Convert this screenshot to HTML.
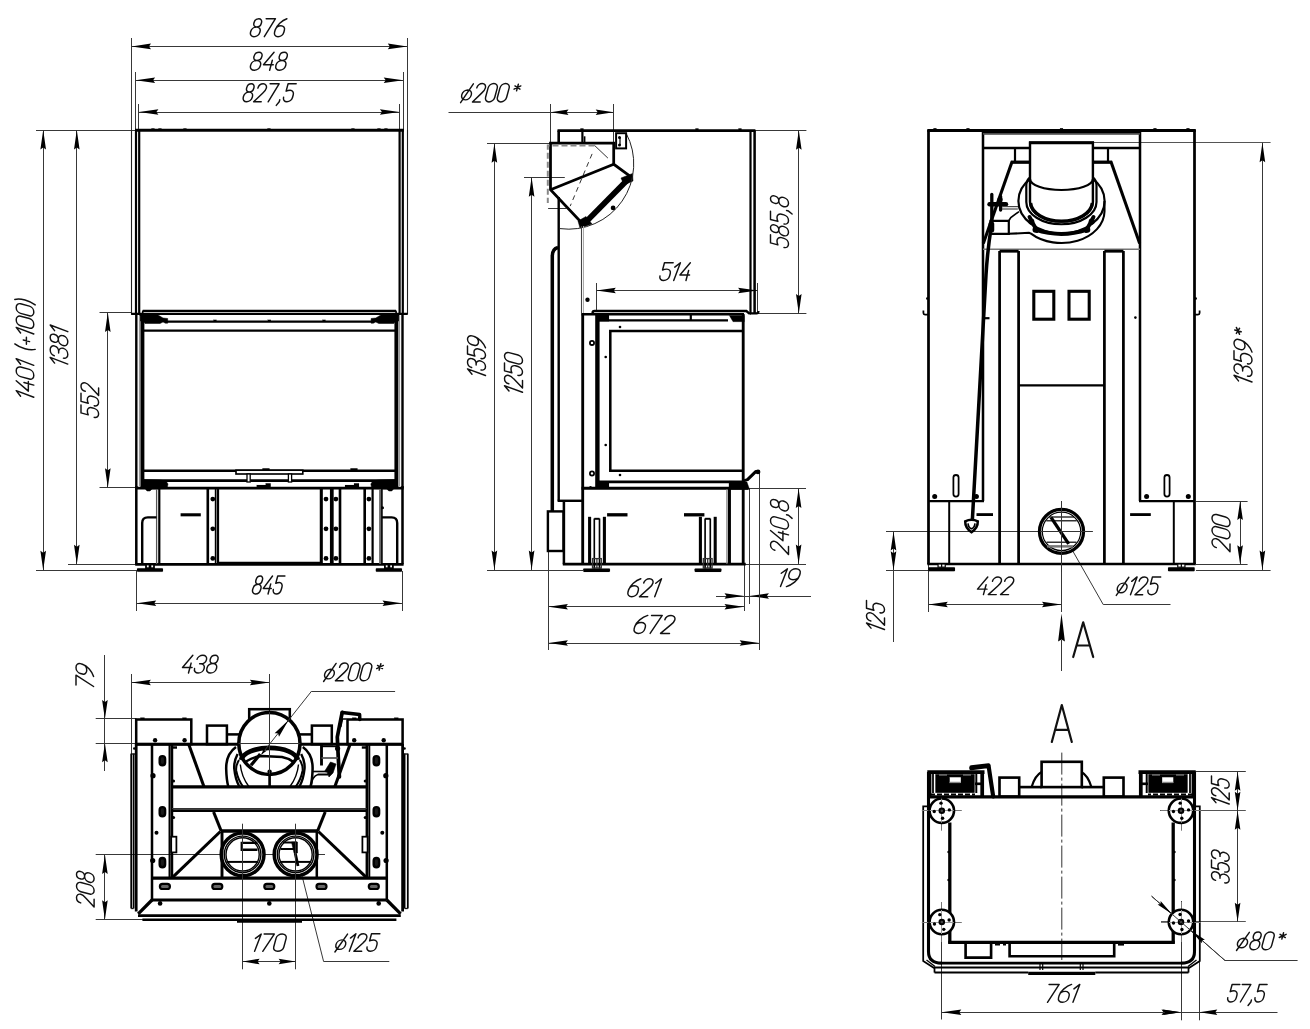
<!DOCTYPE html>
<html><head><meta charset="utf-8"><title>Drawing</title>
<style>html,body{margin:0;padding:0;background:#fff;font-family:"Liberation Sans",sans-serif;}svg{display:block}</style>
</head><body>
<svg width="1310" height="1029" viewBox="0 0 1310 1029">
<rect x="0" y="0" width="1310" height="1029" fill="#fff"/>
<g id="front">
<line x1="131.5" y1="38" x2="131.5" y2="130" stroke="#383838" stroke-width="1" stroke-linecap="butt"/>
<line x1="407.5" y1="38" x2="407.5" y2="130" stroke="#383838" stroke-width="1" stroke-linecap="butt"/>
<line x1="135.5" y1="72" x2="135.5" y2="130" stroke="#383838" stroke-width="1" stroke-linecap="butt"/>
<line x1="403.5" y1="72" x2="403.5" y2="130" stroke="#383838" stroke-width="1" stroke-linecap="butt"/>
<line x1="138.5" y1="104" x2="138.5" y2="130" stroke="#383838" stroke-width="1" stroke-linecap="butt"/>
<line x1="399.5" y1="104" x2="399.5" y2="130" stroke="#383838" stroke-width="1" stroke-linecap="butt"/>
<line x1="131.5" y1="46.5" x2="407.3" y2="46.5" stroke="#383838" stroke-width="1" stroke-linecap="butt"/>
<path d="M131.5,46.4 L151,49.2 L149,46.4 L151,43.6 Z" fill="#000"/>
<path d="M407.3,46.4 L387.8,43.6 L389.8,46.4 L387.8,49.2 Z" fill="#000"/>
<line x1="135.6" y1="80.5" x2="403.2" y2="80.5" stroke="#383838" stroke-width="1" stroke-linecap="butt"/>
<path d="M135.6,80.3 L155.1,83.1 L153.1,80.3 L155.1,77.5 Z" fill="#000"/>
<path d="M403.2,80.3 L383.7,77.5 L385.7,80.3 L383.7,83.1 Z" fill="#000"/>
<line x1="138.9" y1="112.5" x2="399.4" y2="112.5" stroke="#383838" stroke-width="1" stroke-linecap="butt"/>
<path d="M138.9,112 L158.4,114.8 L156.4,112 L158.4,109.2 Z" fill="#000"/>
<path d="M399.4,112 L379.9,109.2 L381.9,112 L379.9,114.8 Z" fill="#000"/>
<g transform="translate(254.17,18.7) skewX(-15) scale(1.86,1.8)" fill="none" stroke="#111" stroke-width="1.45" stroke-linecap="round" stroke-linejoin="round"><path vector-effect="non-scaling-stroke" transform="translate(0,0)" d="M0.5,2.1 A2,2.1 0 0 1 4.5,2.1 L4.5,2.5 A2,2.1 0 0 1 0.5,2.5 Z M0,7 A2.5,2.4 0 0 1 5,7 L5,7.5 A2.5,2.5 0 0 1 0,7.5 Z"/><path vector-effect="non-scaling-stroke" transform="translate(6.45,0)" d="M0,0 L5,0 L1.6,10"/><path vector-effect="non-scaling-stroke" transform="translate(12.9,0)" d="M4.7,0 C2.4,0.9 0,3.6 0,6.4 L0,7.5 A2.5,2.5 0 0 0 5,7.5 L5,6.3 A2.5,2.4 0 0 0 0,6.3"/></g>
<g transform="translate(254.16,52.3) skewX(-15) scale(1.96,1.8)" fill="none" stroke="#111" stroke-width="1.45" stroke-linecap="round" stroke-linejoin="round"><path vector-effect="non-scaling-stroke" transform="translate(0,0)" d="M0.5,2.1 A2,2.1 0 0 1 4.5,2.1 L4.5,2.5 A2,2.1 0 0 1 0.5,2.5 Z M0,7 A2.5,2.4 0 0 1 5,7 L5,7.5 A2.5,2.5 0 0 1 0,7.5 Z"/><path vector-effect="non-scaling-stroke" transform="translate(6.45,0)" d="M3.7,0 L0,6.9 L5,6.9 M3.9,4.4 L3.9,10"/><path vector-effect="non-scaling-stroke" transform="translate(12.9,0)" d="M0.5,2.1 A2,2.1 0 0 1 4.5,2.1 L4.5,2.5 A2,2.1 0 0 1 0.5,2.5 Z M0,7 A2.5,2.4 0 0 1 5,7 L5,7.5 A2.5,2.5 0 0 1 0,7.5 Z"/></g>
<g transform="translate(246.88,83.8) skewX(-15) scale(1.8,1.8)" fill="none" stroke="#111" stroke-width="1.45" stroke-linecap="round" stroke-linejoin="round"><path vector-effect="non-scaling-stroke" transform="translate(0,0)" d="M0.5,2.1 A2,2.1 0 0 1 4.5,2.1 L4.5,2.5 A2,2.1 0 0 1 0.5,2.5 Z M0,7 A2.5,2.4 0 0 1 5,7 L5,7.5 A2.5,2.5 0 0 1 0,7.5 Z"/><path vector-effect="non-scaling-stroke" transform="translate(6.45,0)" d="M0.3,2.4 A2.35,2.4 0 0 1 5,2.4 C5,3.6 4.5,4.3 3.8,5.1 L0,10 L4.2,10"/><path vector-effect="non-scaling-stroke" transform="translate(12.9,0)" d="M0,0 L5,0 L1.6,10"/><path vector-effect="non-scaling-stroke" transform="translate(19.35,0)" d="M1.3,8.9 L1.3,10 L0.2,12"/><path vector-effect="non-scaling-stroke" transform="translate(22.4,0)" d="M5,0 L0.5,0 L0.5,4.1 C1.2,3.7 1.9,3.6 2.6,3.6 A2.4,2.5 0 0 1 5,6.1 L5,7.5 A2.5,2.5 0 0 1 0,7.5"/></g>
<line x1="36" y1="130.5" x2="136" y2="130.5" stroke="#383838" stroke-width="1" stroke-linecap="butt"/>
<line x1="36" y1="570.5" x2="137" y2="570.5" stroke="#383838" stroke-width="1" stroke-linecap="butt"/>
<line x1="68" y1="564.5" x2="136" y2="564.5" stroke="#383838" stroke-width="1" stroke-linecap="butt"/>
<line x1="43.5" y1="130" x2="43.5" y2="570.3" stroke="#383838" stroke-width="1" stroke-linecap="butt"/>
<path d="M43.2,130 L40.4,149.5 L43.2,147.5 L46,149.5 Z" fill="#000"/>
<path d="M43.2,570.3 L46,550.8 L43.2,552.8 L40.4,550.8 Z" fill="#000"/>
<line x1="76.5" y1="130" x2="76.5" y2="564.3" stroke="#383838" stroke-width="1" stroke-linecap="butt"/>
<path d="M76.8,130 L74,149.5 L76.8,147.5 L79.6,149.5 Z" fill="#000"/>
<path d="M76.8,564.3 L79.6,544.8 L76.8,546.8 L74,544.8 Z" fill="#000"/>
<line x1="99.5" y1="312.5" x2="131" y2="312.5" stroke="#383838" stroke-width="1" stroke-linecap="butt"/>
<line x1="99.5" y1="487.5" x2="136" y2="487.5" stroke="#383838" stroke-width="1" stroke-linecap="butt"/>
<line x1="107.5" y1="312.6" x2="107.5" y2="487.7" stroke="#383838" stroke-width="1" stroke-linecap="butt"/>
<path d="M107.8,312.6 L105,332.1 L107.8,330.1 L110.6,332.1 Z" fill="#000"/>
<path d="M107.8,487.7 L110.6,468.2 L107.8,470.2 L105,468.2 Z" fill="#000"/>
<g transform="translate(33.8,397.3) rotate(-90)"><g transform="translate(2.23,-17.6) skewX(-15) scale(1.92,1.76)" fill="none" stroke="#111" stroke-width="1.45" stroke-linecap="round" stroke-linejoin="round"><path vector-effect="non-scaling-stroke" transform="translate(0,0)" d="M0,2.5 L2.3,0 L1.3,10"/><path vector-effect="non-scaling-stroke" transform="translate(3.75,0)" d="M3.7,0 L0,6.9 L5,6.9 M3.9,4.4 L3.9,10"/><path vector-effect="non-scaling-stroke" transform="translate(10.2,0)" d="M0,2.5 A2.5,2.5 0 0 1 5,2.5 L5,7.5 A2.5,2.5 0 0 1 0,7.5 Z"/><path vector-effect="non-scaling-stroke" transform="translate(16.65,0)" d="M0,2.5 L2.3,0 L1.3,10"/><path vector-effect="non-scaling-stroke" transform="translate(24.45,0)" d="M2,-0.8 C0.5,2.5 0.5,7.5 2,10.8"/><path vector-effect="non-scaling-stroke" transform="translate(27.9,0)" d="M0,5.8 L3.6,5.8 M1.8,4 L1.8,7.6"/><path vector-effect="non-scaling-stroke" transform="translate(32.95,0)" d="M0,2.5 L2.3,0 L1.3,10"/><path vector-effect="non-scaling-stroke" transform="translate(36.7,0)" d="M0,2.5 A2.5,2.5 0 0 1 5,2.5 L5,7.5 A2.5,2.5 0 0 1 0,7.5 Z"/><path vector-effect="non-scaling-stroke" transform="translate(43.15,0)" d="M0,2.5 A2.5,2.5 0 0 1 5,2.5 L5,7.5 A2.5,2.5 0 0 1 0,7.5 Z"/><path vector-effect="non-scaling-stroke" transform="translate(49.6,0)" d="M0,-0.8 C1.5,2.5 1.5,7.5 0,10.8"/></g></g>
<g transform="translate(67.8,364.1) rotate(-90)"><g transform="translate(2.18,-17.6) skewX(-15) scale(1.95,1.76)" fill="none" stroke="#111" stroke-width="1.45" stroke-linecap="round" stroke-linejoin="round"><path vector-effect="non-scaling-stroke" transform="translate(0,0)" d="M0,2.5 L2.3,0 L1.3,10"/><path vector-effect="non-scaling-stroke" transform="translate(3.75,0)" d="M0,2.3 A2.5,2.3 0 0 1 5,2.3 L5,2.6 A2.3,2.2 0 0 1 2.7,4.8 L2,4.8 M2.7,4.8 A2.4,2.5 0 0 1 5,7.3 L5,7.5 A2.5,2.5 0 0 1 0,7.5"/><path vector-effect="non-scaling-stroke" transform="translate(10.2,0)" d="M0.5,2.1 A2,2.1 0 0 1 4.5,2.1 L4.5,2.5 A2,2.1 0 0 1 0.5,2.5 Z M0,7 A2.5,2.4 0 0 1 5,7 L5,7.5 A2.5,2.5 0 0 1 0,7.5 Z"/><path vector-effect="non-scaling-stroke" transform="translate(16.65,0)" d="M0,2.5 L2.3,0 L1.3,10"/></g></g>
<g transform="translate(98.6,417.5) rotate(-90)"><g transform="translate(3.69,-17.6) skewX(-15) scale(1.79,1.76)" fill="none" stroke="#111" stroke-width="1.45" stroke-linecap="round" stroke-linejoin="round"><path vector-effect="non-scaling-stroke" transform="translate(0,0)" d="M5,0 L0.5,0 L0.5,4.1 C1.2,3.7 1.9,3.6 2.6,3.6 A2.4,2.5 0 0 1 5,6.1 L5,7.5 A2.5,2.5 0 0 1 0,7.5"/><path vector-effect="non-scaling-stroke" transform="translate(6.45,0)" d="M5,0 L0.5,0 L0.5,4.1 C1.2,3.7 1.9,3.6 2.6,3.6 A2.4,2.5 0 0 1 5,6.1 L5,7.5 A2.5,2.5 0 0 1 0,7.5"/><path vector-effect="non-scaling-stroke" transform="translate(12.9,0)" d="M0.3,2.4 A2.35,2.4 0 0 1 5,2.4 C5,3.6 4.5,4.3 3.8,5.1 L0,10 L4.2,10"/></g></g>
<line x1="136.5" y1="571" x2="136.5" y2="611" stroke="#383838" stroke-width="1" stroke-linecap="butt"/>
<line x1="402.5" y1="571" x2="402.5" y2="611" stroke="#383838" stroke-width="1" stroke-linecap="butt"/>
<line x1="136.7" y1="603.5" x2="402" y2="603.5" stroke="#383838" stroke-width="1" stroke-linecap="butt"/>
<path d="M136.7,603.3 L156.2,606.1 L154.2,603.3 L156.2,600.5 Z" fill="#000"/>
<path d="M402,603.3 L382.5,600.5 L384.5,603.3 L382.5,606.1 Z" fill="#000"/>
<g transform="translate(256.29,576) skewX(-15) scale(1.6,1.8)" fill="none" stroke="#111" stroke-width="1.45" stroke-linecap="round" stroke-linejoin="round"><path vector-effect="non-scaling-stroke" transform="translate(0,0)" d="M0.5,2.1 A2,2.1 0 0 1 4.5,2.1 L4.5,2.5 A2,2.1 0 0 1 0.5,2.5 Z M0,7 A2.5,2.4 0 0 1 5,7 L5,7.5 A2.5,2.5 0 0 1 0,7.5 Z"/><path vector-effect="non-scaling-stroke" transform="translate(6.45,0)" d="M3.7,0 L0,6.9 L5,6.9 M3.9,4.4 L3.9,10"/><path vector-effect="non-scaling-stroke" transform="translate(12.9,0)" d="M5,0 L0.5,0 L0.5,4.1 C1.2,3.7 1.9,3.6 2.6,3.6 A2.4,2.5 0 0 1 5,6.1 L5,7.5 A2.5,2.5 0 0 1 0,7.5"/></g>
<line x1="131.5" y1="130" x2="131.5" y2="314" stroke="#222" stroke-width="1.1" stroke-linecap="butt"/>
<line x1="407.5" y1="130" x2="407.5" y2="314" stroke="#222" stroke-width="1.1" stroke-linecap="butt"/>
<line x1="131" y1="314" x2="136" y2="314" stroke="#000" stroke-width="1.65" stroke-linecap="butt"/>
<line x1="407.8" y1="314" x2="402.8" y2="314" stroke="#000" stroke-width="1.65" stroke-linecap="butt"/>
<line x1="135" y1="130.3" x2="404" y2="130.3" stroke="#000" stroke-width="2.97" stroke-linecap="butt"/>
<line x1="136" y1="130" x2="136" y2="313.5" stroke="#000" stroke-width="2.2" stroke-linecap="butt"/>
<line x1="402.8" y1="130" x2="402.8" y2="313.5" stroke="#000" stroke-width="2.2" stroke-linecap="butt"/>
<line x1="139.2" y1="130" x2="139.2" y2="313.5" stroke="#000" stroke-width="2.2" stroke-linecap="butt"/>
<line x1="399.6" y1="130" x2="399.6" y2="313.5" stroke="#000" stroke-width="2.2" stroke-linecap="butt"/>
<rect x="151.5" y="128.4" width="3" height="1.6" stroke="#000" stroke-width="0.1" fill="#000" rx="0"/>
<rect x="158.5" y="128.4" width="3" height="1.6" stroke="#000" stroke-width="0.1" fill="#000" rx="0"/>
<rect x="183.5" y="128.4" width="3" height="1.6" stroke="#000" stroke-width="0.1" fill="#000" rx="0"/>
<rect x="267.5" y="128.4" width="3" height="1.6" stroke="#000" stroke-width="0.1" fill="#000" rx="0"/>
<rect x="351.5" y="128.4" width="3" height="1.6" stroke="#000" stroke-width="0.1" fill="#000" rx="0"/>
<rect x="377.5" y="128.4" width="3" height="1.6" stroke="#000" stroke-width="0.1" fill="#000" rx="0"/>
<rect x="384.5" y="128.4" width="3" height="1.6" stroke="#000" stroke-width="0.1" fill="#000" rx="0"/>
<line x1="142.7" y1="310.8" x2="396.1" y2="310.8" stroke="#000" stroke-width="2.2" stroke-linecap="butt"/>
<line x1="131.5" y1="313.8" x2="407.3" y2="313.8" stroke="#000" stroke-width="2.2" stroke-linecap="butt"/>
<path d="M142.7,313 L142.7,311.5 Q142.7,310.8 144,310.8" stroke="#000" stroke-width="1.65" fill="none" stroke-linejoin="miter" stroke-linecap="butt"/>
<path d="M396.1,313 L396.1,311.5 Q396.1,310.8 394.8,310.8" stroke="#000" stroke-width="1.65" fill="none" stroke-linejoin="miter" stroke-linecap="butt"/>
<line x1="166" y1="321.6" x2="372.8" y2="321.6" stroke="#000" stroke-width="2.42" stroke-linecap="butt"/>
<line x1="142.7" y1="330.7" x2="396.1" y2="330.7" stroke="#000" stroke-width="2.2" stroke-linecap="butt"/>
<rect x="213.5" y="319.8" width="3" height="1.2" stroke="#000" stroke-width="0.1" fill="#000" rx="0"/>
<rect x="267.9" y="319.8" width="3" height="1.2" stroke="#000" stroke-width="0.1" fill="#000" rx="0"/>
<rect x="322.5" y="319.8" width="3" height="1.2" stroke="#000" stroke-width="0.1" fill="#000" rx="0"/>
<path d="M139.7,314.5 L158,315 L163,318 L167.7,318.5 L167.7,323.2 L165.5,323.2 L163,322 L160,323.5 L145,323.5 L143,321 L139.7,321 Z" stroke="#000" stroke-width="0.5" fill="#000" stroke-linejoin="miter" stroke-linecap="butt"/>
<path d="M141.6,479.5 L160,480 L166,481 L168,484 L167,488.5 L152,489 L150,491 L147,491 L145,488.5 L141.6,488.5 Z" stroke="#000" stroke-width="0.5" fill="#000" stroke-linejoin="miter" stroke-linecap="butt"/>
<path d="M399.1,314.5 L380.8,315 L375.8,318 L371.1,318.5 L371.1,323.2 L373.3,323.2 L375.8,322 L378.8,323.5 L393.8,323.5 L395.8,321 L399.1,321 Z" stroke="#000" stroke-width="0.5" fill="#000" stroke-linejoin="miter" stroke-linecap="butt"/>
<path d="M397.2,479.5 L378.8,480 L372.8,481 L370.8,484 L371.8,488.5 L386.8,489 L388.8,491 L391.8,491 L393.8,488.5 L397.2,488.5 Z" stroke="#000" stroke-width="0.5" fill="#000" stroke-linejoin="miter" stroke-linecap="butt"/>
<line x1="136.3" y1="314" x2="136.3" y2="488" stroke="#000" stroke-width="2.42" stroke-linecap="butt"/>
<line x1="402.5" y1="314" x2="402.5" y2="488" stroke="#000" stroke-width="2.42" stroke-linecap="butt"/>
<line x1="142.4" y1="314" x2="142.4" y2="488" stroke="#000" stroke-width="3.96" stroke-linecap="butt"/>
<line x1="396.4" y1="314" x2="396.4" y2="488" stroke="#000" stroke-width="3.96" stroke-linecap="butt"/>
<line x1="139.5" y1="316" x2="139.5" y2="486" stroke="#999" stroke-width="1.2" stroke-linecap="butt"/>
<line x1="399.5" y1="316" x2="399.5" y2="486" stroke="#999" stroke-width="1.2" stroke-linecap="butt"/>
<line x1="143" y1="470.7" x2="395.8" y2="470.7" stroke="#000" stroke-width="2.53" stroke-linecap="butt"/>
<line x1="143" y1="480.6" x2="395.8" y2="480.6" stroke="#000" stroke-width="2.75" stroke-linecap="butt"/>
<rect x="236" y="470.2" width="66.8" height="3.8" stroke="#000" stroke-width="1.65" fill="#fff" rx="0"/>
<rect x="247" y="474" width="3.2" height="8" stroke="#000" stroke-width="1.3" fill="#fff" rx="0"/>
<rect x="288.4" y="474" width="3.2" height="8" stroke="#000" stroke-width="1.3" fill="#fff" rx="0"/>
<rect x="262.5" y="468.3" width="7" height="1.7" stroke="#000" stroke-width="0.1" fill="#000" rx="0"/>
<rect x="350.5" y="468.3" width="7" height="1.7" stroke="#000" stroke-width="0.1" fill="#000" rx="0"/>
<rect x="256.7" y="485" width="14" height="2.2" stroke="#000" stroke-width="0.1" fill="#000" rx="0"/>
<rect x="265.7" y="483.3" width="5" height="1.9" stroke="#000" stroke-width="0.1" fill="#000" rx="0"/>
<rect x="345" y="485" width="14" height="2.2" stroke="#000" stroke-width="0.1" fill="#000" rx="0"/>
<rect x="354" y="483.3" width="5" height="1.9" stroke="#000" stroke-width="0.1" fill="#000" rx="0"/>
<line x1="135.2" y1="488" x2="403.6" y2="488" stroke="#000" stroke-width="2.75" stroke-linecap="butt"/>
<line x1="135.2" y1="564.3" x2="403.6" y2="564.3" stroke="#000" stroke-width="2.75" stroke-linecap="butt"/>
<line x1="136.3" y1="486" x2="136.3" y2="564.3" stroke="#000" stroke-width="2.53" stroke-linecap="butt"/>
<line x1="402.5" y1="486" x2="402.5" y2="564.3" stroke="#000" stroke-width="2.53" stroke-linecap="butt"/>
<line x1="156.6" y1="489" x2="156.6" y2="564" stroke="#555" stroke-width="1.3" stroke-linecap="butt"/>
<line x1="159.3" y1="489" x2="159.3" y2="564" stroke="#000" stroke-width="2.2" stroke-linecap="butt"/>
<line x1="207.8" y1="489" x2="207.8" y2="564" stroke="#000" stroke-width="2.64" stroke-linecap="butt"/>
<line x1="215.4" y1="489" x2="215.4" y2="564" stroke="#000" stroke-width="1.2" stroke-linecap="butt"/>
<line x1="217.8" y1="489" x2="217.8" y2="564" stroke="#000" stroke-width="2.64" stroke-linecap="butt"/>
<line x1="321.3" y1="489" x2="321.3" y2="564" stroke="#000" stroke-width="3.08" stroke-linecap="butt"/>
<line x1="331.8" y1="489" x2="331.8" y2="564" stroke="#000" stroke-width="3.74" stroke-linecap="butt"/>
<line x1="340" y1="489" x2="340" y2="564" stroke="#000" stroke-width="2.64" stroke-linecap="butt"/>
<line x1="364.7" y1="489" x2="364.7" y2="564" stroke="#000" stroke-width="2.64" stroke-linecap="butt"/>
<line x1="372.6" y1="489" x2="372.6" y2="564" stroke="#000" stroke-width="2.2" stroke-linecap="butt"/>
<line x1="380.2" y1="489" x2="380.2" y2="564" stroke="#666" stroke-width="2.2" stroke-linecap="butt"/>
<line x1="381.9" y1="489" x2="381.9" y2="564" stroke="#000" stroke-width="1.65" stroke-linecap="butt"/>
<line x1="218" y1="562.6" x2="321" y2="562.6" stroke="#000" stroke-width="1.65" stroke-linecap="butt"/>
<circle cx="212.8" cy="499.1" r="2.4" fill="#000"/>
<circle cx="212.8" cy="528.8" r="2.4" fill="#000"/>
<circle cx="212.8" cy="558.4" r="2.4" fill="#000"/>
<circle cx="326" cy="499.1" r="2.4" fill="#000"/>
<circle cx="326" cy="528.8" r="2.4" fill="#000"/>
<circle cx="326" cy="558.4" r="2.4" fill="#000"/>
<circle cx="335.9" cy="499.1" r="2.4" fill="#000"/>
<circle cx="335.9" cy="528.8" r="2.4" fill="#000"/>
<circle cx="335.9" cy="558.4" r="2.4" fill="#000"/>
<circle cx="368.9" cy="499.1" r="2.4" fill="#000"/>
<circle cx="368.9" cy="528.8" r="2.4" fill="#000"/>
<circle cx="368.9" cy="558.4" r="2.4" fill="#000"/>
<circle cx="382.5" cy="507.8" r="1.5" fill="#000"/>
<line x1="180.6" y1="514.8" x2="200.8" y2="514.8" stroke="#000" stroke-width="3.08" stroke-linecap="butt"/>
<path d="M142.2,564 L142.2,523 Q142.2,517.4 147.8,517.4 L156.6,517.4" stroke="#000" stroke-width="2.42" fill="none" stroke-linejoin="miter" stroke-linecap="butt"/>
<path d="M397.2,564 L397.2,523 Q397.2,517.4 391.6,517.4 L382,517.4" stroke="#000" stroke-width="2.42" fill="none" stroke-linejoin="miter" stroke-linecap="butt"/>
<rect x="137" y="568.2" width="26" height="3.6" stroke="#000" stroke-width="0.1" fill="#000" rx="0.8"/>
<rect x="146" y="564.5" width="8" height="3.7" stroke="#000" stroke-width="1.76" fill="#fff" rx="0"/>
<line x1="150" y1="564.5" x2="150" y2="568.2" stroke="#000" stroke-width="2.64" stroke-linecap="butt"/>
<rect x="375.8" y="568.2" width="26.2" height="3.6" stroke="#000" stroke-width="0.1" fill="#000" rx="0.8"/>
<rect x="384.9" y="564.5" width="8" height="3.7" stroke="#000" stroke-width="1.76" fill="#fff" rx="0"/>
<line x1="388.9" y1="564.5" x2="388.9" y2="568.2" stroke="#000" stroke-width="2.64" stroke-linecap="butt"/>
</g>
<g id="side">
<g transform="translate(464.44,83.5) skewX(-15) scale(1.84,1.84)" fill="none" stroke="#111" stroke-width="1.45" stroke-linecap="round" stroke-linejoin="round"><path vector-effect="non-scaling-stroke" transform="translate(0,0)" d="M0.2,6.2 A2.6,2.7 0 1 1 5.4,6.2 A2.6,2.7 0 1 1 0.2,6.2 Z M4.9,0.2 L0.7,10.4"/><path vector-effect="non-scaling-stroke" transform="translate(7.05,0)" d="M0.3,2.4 A2.35,2.4 0 0 1 5,2.4 C5,3.6 4.5,4.3 3.8,5.1 L0,10 L4.2,10"/><path vector-effect="non-scaling-stroke" transform="translate(13.5,0)" d="M0,2.5 A2.5,2.5 0 0 1 5,2.5 L5,7.5 A2.5,2.5 0 0 1 0,7.5 Z"/><path vector-effect="non-scaling-stroke" transform="translate(19.95,0)" d="M0,2.5 A2.5,2.5 0 0 1 5,2.5 L5,7.5 A2.5,2.5 0 0 1 0,7.5 Z"/><path vector-effect="non-scaling-stroke" transform="translate(26.4,0)" d="M3,0.4 L3,4 M1.4,1.3 L4.6,3.1 M4.6,1.3 L1.4,3.1"/></g>
<line x1="448.5" y1="112.5" x2="613.7" y2="112.5" stroke="#383838" stroke-width="1" stroke-linecap="butt"/>
<path d="M550.5,112.2 L568.5,115 L566.5,112.2 L568.5,109.4 Z" fill="#000"/>
<path d="M613.7,112.2 L595.7,109.4 L597.7,112.2 L595.7,115 Z" fill="#000"/>
<line x1="550.5" y1="104" x2="550.5" y2="143" stroke="#383838" stroke-width="1" stroke-linecap="butt"/>
<line x1="613.5" y1="104" x2="613.5" y2="143" stroke="#383838" stroke-width="1" stroke-linecap="butt"/>
<line x1="487" y1="143.5" x2="550.5" y2="143.5" stroke="#383838" stroke-width="1" stroke-linecap="butt"/>
<line x1="487" y1="570.5" x2="583" y2="570.5" stroke="#383838" stroke-width="1" stroke-linecap="butt"/>
<line x1="494.5" y1="143.2" x2="494.5" y2="570" stroke="#383838" stroke-width="1" stroke-linecap="butt"/>
<path d="M494.4,143.2 L491.6,162.7 L494.4,160.7 L497.2,162.7 Z" fill="#000"/>
<path d="M494.4,570 L497.2,550.5 L494.4,552.5 L491.6,550.5 Z" fill="#000"/>
<line x1="524" y1="177.5" x2="564.8" y2="177.5" stroke="#383838" stroke-width="1" stroke-linecap="butt"/>
<line x1="531.5" y1="177.3" x2="531.5" y2="570" stroke="#383838" stroke-width="1" stroke-linecap="butt"/>
<path d="M531.6,177.3 L528.8,196.8 L531.6,194.8 L534.4,196.8 Z" fill="#000"/>
<path d="M531.6,570 L534.4,550.5 L531.6,552.5 L528.8,550.5 Z" fill="#000"/>
<line x1="548.1" y1="208.5" x2="566.6" y2="208.5" stroke="#383838" stroke-width="1" stroke-linecap="butt"/>
<g transform="translate(485.5,375.5) rotate(-90)"><g transform="translate(2.53,-18) skewX(-15) scale(1.77,1.8)" fill="none" stroke="#111" stroke-width="1.45" stroke-linecap="round" stroke-linejoin="round"><path vector-effect="non-scaling-stroke" transform="translate(0,0)" d="M0,2.5 L2.3,0 L1.3,10"/><path vector-effect="non-scaling-stroke" transform="translate(3.75,0)" d="M0,2.3 A2.5,2.3 0 0 1 5,2.3 L5,2.6 A2.3,2.2 0 0 1 2.7,4.8 L2,4.8 M2.7,4.8 A2.4,2.5 0 0 1 5,7.3 L5,7.5 A2.5,2.5 0 0 1 0,7.5"/><path vector-effect="non-scaling-stroke" transform="translate(10.2,0)" d="M5,0 L0.5,0 L0.5,4.1 C1.2,3.7 1.9,3.6 2.6,3.6 A2.4,2.5 0 0 1 5,6.1 L5,7.5 A2.5,2.5 0 0 1 0,7.5"/><path vector-effect="non-scaling-stroke" transform="translate(16.65,0)" d="M5,3.7 A2.5,2.4 0 0 1 0,3.7 L0,2.5 A2.5,2.5 0 0 1 5,2.5 L5,3.6 C5,6.4 2.6,9.1 0.3,10"/></g></g>
<g transform="translate(522.5,392.3) rotate(-90)"><g transform="translate(2.53,-18) skewX(-15) scale(1.77,1.8)" fill="none" stroke="#111" stroke-width="1.45" stroke-linecap="round" stroke-linejoin="round"><path vector-effect="non-scaling-stroke" transform="translate(0,0)" d="M0,2.5 L2.3,0 L1.3,10"/><path vector-effect="non-scaling-stroke" transform="translate(3.75,0)" d="M0.3,2.4 A2.35,2.4 0 0 1 5,2.4 C5,3.6 4.5,4.3 3.8,5.1 L0,10 L4.2,10"/><path vector-effect="non-scaling-stroke" transform="translate(10.2,0)" d="M5,0 L0.5,0 L0.5,4.1 C1.2,3.7 1.9,3.6 2.6,3.6 A2.4,2.5 0 0 1 5,6.1 L5,7.5 A2.5,2.5 0 0 1 0,7.5"/><path vector-effect="non-scaling-stroke" transform="translate(16.65,0)" d="M0,2.5 A2.5,2.5 0 0 1 5,2.5 L5,7.5 A2.5,2.5 0 0 1 0,7.5 Z"/></g></g>
<line x1="755" y1="130.5" x2="806.4" y2="130.5" stroke="#383838" stroke-width="1" stroke-linecap="butt"/>
<line x1="757" y1="313.5" x2="806.4" y2="313.5" stroke="#383838" stroke-width="1" stroke-linecap="butt"/>
<line x1="798.5" y1="130.2" x2="798.5" y2="313.4" stroke="#383838" stroke-width="1" stroke-linecap="butt"/>
<path d="M798.8,130.2 L796,149.7 L798.8,147.7 L801.6,149.7 Z" fill="#000"/>
<path d="M798.8,313.4 L801.6,293.9 L798.8,295.9 L796,293.9 Z" fill="#000"/>
<g transform="translate(788.5,247.6) rotate(-90)"><g transform="translate(3.77,-18) skewX(-15) scale(1.82,1.8)" fill="none" stroke="#111" stroke-width="1.45" stroke-linecap="round" stroke-linejoin="round"><path vector-effect="non-scaling-stroke" transform="translate(0,0)" d="M5,0 L0.5,0 L0.5,4.1 C1.2,3.7 1.9,3.6 2.6,3.6 A2.4,2.5 0 0 1 5,6.1 L5,7.5 A2.5,2.5 0 0 1 0,7.5"/><path vector-effect="non-scaling-stroke" transform="translate(6.45,0)" d="M0.5,2.1 A2,2.1 0 0 1 4.5,2.1 L4.5,2.5 A2,2.1 0 0 1 0.5,2.5 Z M0,7 A2.5,2.4 0 0 1 5,7 L5,7.5 A2.5,2.5 0 0 1 0,7.5 Z"/><path vector-effect="non-scaling-stroke" transform="translate(12.9,0)" d="M5,0 L0.5,0 L0.5,4.1 C1.2,3.7 1.9,3.6 2.6,3.6 A2.4,2.5 0 0 1 5,6.1 L5,7.5 A2.5,2.5 0 0 1 0,7.5"/><path vector-effect="non-scaling-stroke" transform="translate(19.35,0)" d="M1.3,8.9 L1.3,10 L0.2,12"/><path vector-effect="non-scaling-stroke" transform="translate(22.4,0)" d="M0.5,2.1 A2,2.1 0 0 1 4.5,2.1 L4.5,2.5 A2,2.1 0 0 1 0.5,2.5 Z M0,7 A2.5,2.4 0 0 1 5,7 L5,7.5 A2.5,2.5 0 0 1 0,7.5 Z"/></g></g>
<line x1="596.5" y1="283" x2="596.5" y2="311" stroke="#383838" stroke-width="1" stroke-linecap="butt"/>
<line x1="757.5" y1="283" x2="757.5" y2="313" stroke="#383838" stroke-width="1" stroke-linecap="butt"/>
<line x1="596.3" y1="290.5" x2="757.6" y2="290.5" stroke="#383838" stroke-width="1" stroke-linecap="butt"/>
<path d="M596.3,290.5 L615.8,293.3 L613.8,290.5 L615.8,287.7 Z" fill="#000"/>
<path d="M757.6,290.5 L738.1,287.7 L740.1,290.5 L738.1,293.3 Z" fill="#000"/>
<g transform="translate(663.52,262.7) skewX(-15) scale(1.93,1.78)" fill="none" stroke="#111" stroke-width="1.45" stroke-linecap="round" stroke-linejoin="round"><path vector-effect="non-scaling-stroke" transform="translate(0,0)" d="M5,0 L0.5,0 L0.5,4.1 C1.2,3.7 1.9,3.6 2.6,3.6 A2.4,2.5 0 0 1 5,6.1 L5,7.5 A2.5,2.5 0 0 1 0,7.5"/><path vector-effect="non-scaling-stroke" transform="translate(6.45,0)" d="M0,2.5 L2.3,0 L1.3,10"/><path vector-effect="non-scaling-stroke" transform="translate(10.2,0)" d="M3.7,0 L0,6.9 L5,6.9 M3.9,4.4 L3.9,10"/></g>
<line x1="745" y1="488.5" x2="806" y2="488.5" stroke="#383838" stroke-width="1" stroke-linecap="butt"/>
<line x1="745" y1="564.5" x2="806" y2="564.5" stroke="#383838" stroke-width="1" stroke-linecap="butt"/>
<line x1="798.5" y1="488.5" x2="798.5" y2="564" stroke="#383838" stroke-width="1" stroke-linecap="butt"/>
<path d="M798.6,488.5 L795.8,508 L798.6,506 L801.4,508 Z" fill="#000"/>
<path d="M798.6,564 L801.4,544.5 L798.6,546.5 L795.8,544.5 Z" fill="#000"/>
<g transform="translate(788.5,554.5) rotate(-90)"><g transform="translate(4.78,-18) skewX(-15) scale(1.9,1.8)" fill="none" stroke="#111" stroke-width="1.45" stroke-linecap="round" stroke-linejoin="round"><path vector-effect="non-scaling-stroke" transform="translate(0,0)" d="M0.3,2.4 A2.35,2.4 0 0 1 5,2.4 C5,3.6 4.5,4.3 3.8,5.1 L0,10 L4.2,10"/><path vector-effect="non-scaling-stroke" transform="translate(6.45,0)" d="M3.7,0 L0,6.9 L5,6.9 M3.9,4.4 L3.9,10"/><path vector-effect="non-scaling-stroke" transform="translate(12.9,0)" d="M0,2.5 A2.5,2.5 0 0 1 5,2.5 L5,7.5 A2.5,2.5 0 0 1 0,7.5 Z"/><path vector-effect="non-scaling-stroke" transform="translate(19.35,0)" d="M1.3,8.9 L1.3,10 L0.2,12"/><path vector-effect="non-scaling-stroke" transform="translate(22.4,0)" d="M0.5,2.1 A2,2.1 0 0 1 4.5,2.1 L4.5,2.5 A2,2.1 0 0 1 0.5,2.5 Z M0,7 A2.5,2.4 0 0 1 5,7 L5,7.5 A2.5,2.5 0 0 1 0,7.5 Z"/></g></g>
<line x1="716" y1="596.5" x2="811" y2="596.5" stroke="#383838" stroke-width="1" stroke-linecap="butt"/>
<path d="M744,596 L724.5,593.2 L726.5,596 L724.5,598.8 Z" fill="#000"/>
<path d="M749.4,596 L768.9,598.8 L766.9,596 L768.9,593.2 Z" fill="#000"/>
<g transform="translate(782.46,568.8) skewX(-15) scale(2.16,1.78)" fill="none" stroke="#111" stroke-width="1.45" stroke-linecap="round" stroke-linejoin="round"><path vector-effect="non-scaling-stroke" transform="translate(0,0)" d="M0,2.5 L2.3,0 L1.3,10"/><path vector-effect="non-scaling-stroke" transform="translate(3.75,0)" d="M5,3.7 A2.5,2.4 0 0 1 0,3.7 L0,2.5 A2.5,2.5 0 0 1 5,2.5 L5,3.6 C5,6.4 2.6,9.1 0.3,10"/></g>
<line x1="548.5" y1="552" x2="548.5" y2="650" stroke="#383838" stroke-width="1" stroke-linecap="butt"/>
<line x1="744.5" y1="563" x2="744.5" y2="611" stroke="#383838" stroke-width="1" stroke-linecap="butt"/>
<line x1="749.5" y1="488" x2="749.5" y2="604" stroke="#383838" stroke-width="1" stroke-linecap="butt"/>
<line x1="759.5" y1="472" x2="759.5" y2="650" stroke="#383838" stroke-width="1" stroke-linecap="butt"/>
<line x1="548.4" y1="606.5" x2="744" y2="606.5" stroke="#383838" stroke-width="1" stroke-linecap="butt"/>
<path d="M548.4,606.8 L567.9,609.6 L565.9,606.8 L567.9,604 Z" fill="#000"/>
<path d="M744,606.8 L724.5,604 L726.5,606.8 L724.5,609.6 Z" fill="#000"/>
<line x1="548.4" y1="643.5" x2="759.2" y2="643.5" stroke="#383838" stroke-width="1" stroke-linecap="butt"/>
<path d="M548.4,643 L567.9,645.8 L565.9,643 L567.9,640.2 Z" fill="#000"/>
<path d="M759.2,643 L739.7,640.2 L741.7,643 L739.7,645.8 Z" fill="#000"/>
<g transform="translate(631.56,578.7) skewX(-15) scale(1.97,1.8)" fill="none" stroke="#111" stroke-width="1.45" stroke-linecap="round" stroke-linejoin="round"><path vector-effect="non-scaling-stroke" transform="translate(0,0)" d="M4.7,0 C2.4,0.9 0,3.6 0,6.4 L0,7.5 A2.5,2.5 0 0 0 5,7.5 L5,6.3 A2.5,2.4 0 0 0 0,6.3"/><path vector-effect="non-scaling-stroke" transform="translate(6.45,0)" d="M0.3,2.4 A2.35,2.4 0 0 1 5,2.4 C5,3.6 4.5,4.3 3.8,5.1 L0,10 L4.2,10"/><path vector-effect="non-scaling-stroke" transform="translate(12.9,0)" d="M0,2.5 L2.3,0 L1.3,10"/></g>
<g transform="translate(637.74,615.4) skewX(-15) scale(2.14,1.8)" fill="none" stroke="#111" stroke-width="1.45" stroke-linecap="round" stroke-linejoin="round"><path vector-effect="non-scaling-stroke" transform="translate(0,0)" d="M4.7,0 C2.4,0.9 0,3.6 0,6.4 L0,7.5 A2.5,2.5 0 0 0 5,7.5 L5,6.3 A2.5,2.4 0 0 0 0,6.3"/><path vector-effect="non-scaling-stroke" transform="translate(6.45,0)" d="M0,0 L5,0 L1.6,10"/><path vector-effect="non-scaling-stroke" transform="translate(12.9,0)" d="M0.3,2.4 A2.35,2.4 0 0 1 5,2.4 C5,3.6 4.5,4.3 3.8,5.1 L0,10 L4.2,10"/></g>
<line x1="557.5" y1="130.5" x2="755.4" y2="130.5" stroke="#000" stroke-width="2.75" stroke-linecap="butt"/>
<line x1="750.5" y1="130.5" x2="750.5" y2="313.4" stroke="#000" stroke-width="2.2" stroke-linecap="butt"/>
<line x1="754.6" y1="130.5" x2="754.6" y2="313.4" stroke="#000" stroke-width="2.53" stroke-linecap="butt"/>
<path d="M750,313.4 L756.5,313.4 Q758.5,313.4 758.5,311" stroke="#000" stroke-width="2.2" fill="none" stroke-linejoin="miter" stroke-linecap="butt"/>
<rect x="580.5" y="128.4" width="3" height="1.6" stroke="#000" stroke-width="0.1" fill="#000" rx="0"/>
<rect x="695.5" y="128.4" width="3" height="1.6" stroke="#000" stroke-width="0.1" fill="#000" rx="0"/>
<rect x="738.5" y="128.4" width="3" height="1.6" stroke="#000" stroke-width="0.1" fill="#000" rx="0"/>
<line x1="558.7" y1="130.5" x2="558.7" y2="143.2" stroke="#000" stroke-width="2.64" stroke-linecap="butt"/>
<line x1="558.7" y1="197" x2="558.7" y2="500.7" stroke="#000" stroke-width="2.42" stroke-linecap="butt"/>
<line x1="582.4" y1="130.5" x2="582.4" y2="143.2" stroke="#000" stroke-width="2.2" stroke-linecap="butt"/>
<line x1="584.6" y1="136.3" x2="584.6" y2="143.2" stroke="#000" stroke-width="1.65" stroke-linecap="butt"/>
<path d="M550.5,143.2 L613.7,143.2 L613.7,164.2 L631,177 L583,224.3 L550.5,189.7 Z" stroke="#000" stroke-width="2.75" fill="none" stroke-linejoin="miter" stroke-linecap="butt"/>
<line x1="550.5" y1="189.7" x2="613.7" y2="164.2" stroke="#000" stroke-width="2.75" stroke-linecap="butt"/>
<line x1="628.3" y1="179" x2="584.4" y2="223.5" stroke="#000" stroke-width="5.72" stroke-linecap="butt"/>
<path d="M632.5,173.5 L633,181 L624,185 L621,178 Z" stroke="#000" stroke-width="0.5" fill="#000" stroke-linejoin="miter" stroke-linecap="butt"/>
<path d="M580,228 L578,221 L586,216.5 L592,224 Z" stroke="#000" stroke-width="0.5" fill="#000" stroke-linejoin="miter" stroke-linecap="butt"/>
<path d="M626.1,133.2 A65.3,65.3 0 0 1 559.9,228.6" stroke="#222" stroke-width="1" fill="none" stroke-linejoin="miter" stroke-linecap="butt"/>
<rect x="616.1" y="133.2" width="10" height="15.2" stroke="#000" stroke-width="1.98" fill="none" rx="0"/>
<circle cx="619.5" cy="137.5" r="1.5" fill="#000"/>
<circle cx="619.5" cy="145" r="1.5" fill="#000"/>
<line x1="620" y1="137" x2="620" y2="145" stroke="#000" stroke-width="1.2" stroke-linecap="butt"/>
<path d="M594.5,145.4 L547.8,145.4 L547.8,203" stroke="#888" stroke-width="1.98" fill="none" stroke-linejoin="miter" stroke-linecap="butt" stroke-dasharray="6 3"/>
<line x1="594.5" y1="145.4" x2="607.9" y2="158.1" stroke="#333" stroke-width="1" stroke-linecap="butt"/>
<line x1="592.1" y1="153.9" x2="570.2" y2="206.1" stroke="#333" stroke-width="1" stroke-linecap="butt" stroke-dasharray="5 4"/>
<circle cx="613.1" cy="207.9" r="2.4" fill="#000"/>
<path d="M558,247.5 Q552.3,249 552.3,256 L552.3,511.4" stroke="#000" stroke-width="3.52" fill="none" stroke-linejoin="miter" stroke-linecap="butt"/>
<rect x="547.9" y="511.4" width="15.6" height="39.6" stroke="#000" stroke-width="2.42" fill="none" rx="0"/>
<path d="M557.6,500.8 L583,500.8" stroke="#000" stroke-width="2.42" fill="none" stroke-linejoin="miter" stroke-linecap="butt"/>
<line x1="563.9" y1="500.7" x2="563.9" y2="564.2" stroke="#000" stroke-width="2.53" stroke-linecap="butt"/>
<line x1="562.8" y1="564" x2="745.7" y2="564" stroke="#000" stroke-width="2.75" stroke-linecap="butt"/>
<line x1="581.5" y1="226" x2="581.5" y2="313" stroke="#444" stroke-width="1.1" stroke-linecap="butt"/>
<line x1="583.5" y1="226" x2="583.5" y2="313" stroke="#aaa" stroke-width="1" stroke-linecap="butt"/>
<circle cx="587.5" cy="299.7" r="2.2" fill="#000"/>
<path d="M592.6,313 Q592.6,311 594.5,311 L746.4,311 L749.1,313.4 L751,313.4" stroke="#000" stroke-width="2.42" fill="none" stroke-linejoin="miter" stroke-linecap="butt"/>
<line x1="581.5" y1="314.2" x2="744" y2="314.2" stroke="#000" stroke-width="2.42" stroke-linecap="butt"/>
<line x1="582.7" y1="313.2" x2="582.7" y2="564.2" stroke="#000" stroke-width="2.86" stroke-linecap="butt"/>
<line x1="743.2" y1="314" x2="743.2" y2="564.2" stroke="#000" stroke-width="2.86" stroke-linecap="butt"/>
<line x1="597.4" y1="315" x2="597.4" y2="487" stroke="#000" stroke-width="4.4" stroke-linecap="butt"/>
<line x1="596" y1="320.4" x2="728" y2="320.4" stroke="#000" stroke-width="2.42" stroke-linecap="butt"/>
<path d="M743.2,331 L610.3,331 L610.3,470.8 L743.2,470.8" stroke="#000" stroke-width="2.53" fill="none" stroke-linejoin="miter" stroke-linecap="butt"/>
<line x1="596" y1="481.8" x2="743.2" y2="481.8" stroke="#000" stroke-width="2.75" stroke-linecap="butt"/>
<line x1="581.5" y1="488.2" x2="748" y2="488.2" stroke="#000" stroke-width="3.08" stroke-linecap="butt"/>
<rect x="597" y="314.5" width="12" height="6.8" stroke="#000" stroke-width="0.1" fill="#000" rx="0"/>
<rect x="597" y="481.5" width="12" height="6.3" stroke="#000" stroke-width="0.1" fill="#000" rx="0"/>
<path d="M729.3,315.5 L744.3,315.5 L744.3,321.7 L733,321.7 Z" stroke="#000" stroke-width="0.3" fill="#000" stroke-linejoin="miter" stroke-linecap="butt"/>
<path d="M729,481.2 L747,482 L749.6,489.4 L729,489.4 Z" stroke="#000" stroke-width="0.3" fill="#000" stroke-linejoin="miter" stroke-linecap="butt"/>
<line x1="690.8" y1="314" x2="690.8" y2="320.4" stroke="#000" stroke-width="2.2" stroke-linecap="butt"/>
<circle cx="592" cy="342.9" r="2.1" stroke="#000" stroke-width="1.76" fill="none"/>
<circle cx="592" cy="473.4" r="2.1" stroke="#000" stroke-width="1.76" fill="none"/>
<circle cx="590.5" cy="487.5" r="1.5" fill="#000"/>
<circle cx="620" cy="327" r="1.3" fill="#000"/>
<circle cx="605.7" cy="357" r="1.3" fill="#000"/>
<circle cx="605.7" cy="445" r="1.3" fill="#000"/>
<circle cx="620" cy="475" r="1.3" fill="#000"/>
<path d="M744.5,480.6 L747.5,479.6 L755.7,471.6 L758,471.6" stroke="#000" stroke-width="3.08" fill="none" stroke-linejoin="round" stroke-linecap="round"/>
<circle cx="758" cy="471.9" r="2.4" fill="#000"/>
<line x1="729.4" y1="489" x2="729.4" y2="564" stroke="#000" stroke-width="3.08" stroke-linecap="butt"/>
<line x1="726.9" y1="489" x2="726.9" y2="564" stroke="#777" stroke-width="1.1" stroke-linecap="butt"/>
<line x1="589.6" y1="516.8" x2="589.6" y2="564" stroke="#000" stroke-width="3.08" stroke-linecap="butt"/>
<line x1="604.4" y1="516.8" x2="604.4" y2="564" stroke="#000" stroke-width="3.08" stroke-linecap="butt"/>
<line x1="594.3" y1="518.5" x2="594.3" y2="568.5" stroke="#000" stroke-width="1.65" stroke-linecap="butt"/>
<line x1="599.5" y1="518.5" x2="599.5" y2="568.5" stroke="#000" stroke-width="1.65" stroke-linecap="butt"/>
<line x1="594.3" y1="518.8" x2="599.5" y2="518.8" stroke="#000" stroke-width="1.98" stroke-linecap="butt"/>
<rect x="592.5" y="558.6" width="8.8" height="9.4" stroke="#333" stroke-width="1.3" fill="none" rx="0"/>
<line x1="596.9" y1="558.6" x2="596.9" y2="568" stroke="#333" stroke-width="1.3" stroke-linecap="butt"/>
<line x1="700.4" y1="516.8" x2="700.4" y2="564" stroke="#000" stroke-width="3.08" stroke-linecap="butt"/>
<line x1="715.2" y1="516.8" x2="715.2" y2="564" stroke="#000" stroke-width="3.08" stroke-linecap="butt"/>
<line x1="705.1" y1="518.5" x2="705.1" y2="568.5" stroke="#000" stroke-width="1.65" stroke-linecap="butt"/>
<line x1="710.3" y1="518.5" x2="710.3" y2="568.5" stroke="#000" stroke-width="1.65" stroke-linecap="butt"/>
<line x1="705.1" y1="518.8" x2="710.3" y2="518.8" stroke="#000" stroke-width="1.98" stroke-linecap="butt"/>
<rect x="703.3" y="558.6" width="8.8" height="9.4" stroke="#333" stroke-width="1.3" fill="none" rx="0"/>
<line x1="707.7" y1="558.6" x2="707.7" y2="568" stroke="#333" stroke-width="1.3" stroke-linecap="butt"/>
<line x1="607.1" y1="514.8" x2="627.5" y2="514.8" stroke="#000" stroke-width="3.3" stroke-linecap="butt"/>
<line x1="684" y1="514.8" x2="704.4" y2="514.8" stroke="#000" stroke-width="3.3" stroke-linecap="butt"/>
<rect x="583.2" y="568.4" width="26.8" height="3.5" stroke="#000" stroke-width="0.1" fill="#000" rx="0.8"/>
<rect x="694.6" y="568.4" width="26.8" height="3.5" stroke="#000" stroke-width="0.1" fill="#000" rx="0.8"/>
</g>
<g id="rear">
<line x1="1094" y1="142.5" x2="1270.6" y2="142.5" stroke="#555" stroke-width="1" stroke-linecap="butt"/>
<line x1="1196" y1="570.5" x2="1270.6" y2="570.5" stroke="#383838" stroke-width="1" stroke-linecap="butt"/>
<line x1="1262.5" y1="142.7" x2="1262.5" y2="570" stroke="#383838" stroke-width="1" stroke-linecap="butt"/>
<path d="M1262.4,142.7 L1259.6,162.2 L1262.4,160.2 L1265.2,162.2 Z" fill="#000"/>
<path d="M1262.4,570 L1265.2,550.5 L1262.4,552.5 L1259.6,550.5 Z" fill="#000"/>
<g transform="translate(1252,382) rotate(-90)"><g transform="translate(2.34,-18) skewX(-15) scale(1.91,1.8)" fill="none" stroke="#111" stroke-width="1.45" stroke-linecap="round" stroke-linejoin="round"><path vector-effect="non-scaling-stroke" transform="translate(0,0)" d="M0,2.5 L2.3,0 L1.3,10"/><path vector-effect="non-scaling-stroke" transform="translate(3.75,0)" d="M0,2.3 A2.5,2.3 0 0 1 5,2.3 L5,2.6 A2.3,2.2 0 0 1 2.7,4.8 L2,4.8 M2.7,4.8 A2.4,2.5 0 0 1 5,7.3 L5,7.5 A2.5,2.5 0 0 1 0,7.5"/><path vector-effect="non-scaling-stroke" transform="translate(10.2,0)" d="M5,0 L0.5,0 L0.5,4.1 C1.2,3.7 1.9,3.6 2.6,3.6 A2.4,2.5 0 0 1 5,6.1 L5,7.5 A2.5,2.5 0 0 1 0,7.5"/><path vector-effect="non-scaling-stroke" transform="translate(16.65,0)" d="M5,3.7 A2.5,2.4 0 0 1 0,3.7 L0,2.5 A2.5,2.5 0 0 1 5,2.5 L5,3.6 C5,6.4 2.6,9.1 0.3,10"/><path vector-effect="non-scaling-stroke" transform="translate(23.1,0)" d="M3,0.4 L3,4 M1.4,1.3 L4.6,3.1 M4.6,1.3 L1.4,3.1"/></g></g>
<line x1="1196" y1="501.5" x2="1247.6" y2="501.5" stroke="#383838" stroke-width="1" stroke-linecap="butt"/>
<line x1="1196" y1="564.5" x2="1247.6" y2="564.5" stroke="#383838" stroke-width="1" stroke-linecap="butt"/>
<line x1="1240.5" y1="501.1" x2="1240.5" y2="564.2" stroke="#383838" stroke-width="1" stroke-linecap="butt"/>
<path d="M1240.1,501.1 L1237.3,520.1 L1240.1,518.1 L1242.9,520.1 Z" fill="#000"/>
<path d="M1240.1,564.2 L1242.9,545.2 L1240.1,547.2 L1237.3,545.2 Z" fill="#000"/>
<g transform="translate(1230,551.8) rotate(-90)"><g transform="translate(4.78,-18) skewX(-15) scale(1.88,1.8)" fill="none" stroke="#111" stroke-width="1.45" stroke-linecap="round" stroke-linejoin="round"><path vector-effect="non-scaling-stroke" transform="translate(0,0)" d="M0.3,2.4 A2.35,2.4 0 0 1 5,2.4 C5,3.6 4.5,4.3 3.8,5.1 L0,10 L4.2,10"/><path vector-effect="non-scaling-stroke" transform="translate(6.45,0)" d="M0,2.5 A2.5,2.5 0 0 1 5,2.5 L5,7.5 A2.5,2.5 0 0 1 0,7.5 Z"/><path vector-effect="non-scaling-stroke" transform="translate(12.9,0)" d="M0,2.5 A2.5,2.5 0 0 1 5,2.5 L5,7.5 A2.5,2.5 0 0 1 0,7.5 Z"/></g></g>
<line x1="886" y1="531.5" x2="1092.7" y2="531.5" stroke="#383838" stroke-width="1" stroke-linecap="butt"/>
<line x1="886" y1="570.5" x2="928" y2="570.5" stroke="#383838" stroke-width="1" stroke-linecap="butt"/>
<line x1="893.5" y1="531.4" x2="893.5" y2="642" stroke="#383838" stroke-width="1" stroke-linecap="butt"/>
<path d="M893.5,531.4 L890.7,550.4 L893.5,548.4 L896.3,550.4 Z" fill="#000"/>
<path d="M893.5,570.2 L896.3,551.2 L893.5,553.2 L890.7,551.2 Z" fill="#000"/>
<g transform="translate(884.5,629.5) rotate(-90)"><g transform="translate(2.56,-18) skewX(-15) scale(1.74,1.8)" fill="none" stroke="#111" stroke-width="1.45" stroke-linecap="round" stroke-linejoin="round"><path vector-effect="non-scaling-stroke" transform="translate(0,0)" d="M0,2.5 L2.3,0 L1.3,10"/><path vector-effect="non-scaling-stroke" transform="translate(3.75,0)" d="M0.3,2.4 A2.35,2.4 0 0 1 5,2.4 C5,3.6 4.5,4.3 3.8,5.1 L0,10 L4.2,10"/><path vector-effect="non-scaling-stroke" transform="translate(10.2,0)" d="M5,0 L0.5,0 L0.5,4.1 C1.2,3.7 1.9,3.6 2.6,3.6 A2.4,2.5 0 0 1 5,6.1 L5,7.5 A2.5,2.5 0 0 1 0,7.5"/></g></g>
<line x1="928.5" y1="565" x2="928.5" y2="612" stroke="#383838" stroke-width="1" stroke-linecap="butt"/>
<line x1="1061.5" y1="501" x2="1061.5" y2="612" stroke="#383838" stroke-width="1" stroke-linecap="butt"/>
<line x1="928.3" y1="604.5" x2="1061.5" y2="604.5" stroke="#383838" stroke-width="1" stroke-linecap="butt"/>
<path d="M928.3,604.5 L947.8,607.3 L945.8,604.5 L947.8,601.7 Z" fill="#000"/>
<path d="M1061.5,604.5 L1042,601.7 L1044,604.5 L1042,607.3 Z" fill="#000"/>
<g transform="translate(980.75,577) skewX(-15) scale(1.9,1.76)" fill="none" stroke="#111" stroke-width="1.45" stroke-linecap="round" stroke-linejoin="round"><path vector-effect="non-scaling-stroke" transform="translate(0,0)" d="M3.7,0 L0,6.9 L5,6.9 M3.9,4.4 L3.9,10"/><path vector-effect="non-scaling-stroke" transform="translate(6.45,0)" d="M0.3,2.4 A2.35,2.4 0 0 1 5,2.4 C5,3.6 4.5,4.3 3.8,5.1 L0,10 L4.2,10"/><path vector-effect="non-scaling-stroke" transform="translate(12.9,0)" d="M0.3,2.4 A2.35,2.4 0 0 1 5,2.4 C5,3.6 4.5,4.3 3.8,5.1 L0,10 L4.2,10"/></g>
<line x1="1068.5" y1="543.5" x2="1103.2" y2="604.5" stroke="#383838" stroke-width="1" stroke-linecap="butt"/>
<line x1="1103.2" y1="604.5" x2="1170.5" y2="604.5" stroke="#383838" stroke-width="1" stroke-linecap="butt"/>
<g transform="translate(1119.98,576.9) skewX(-15) scale(1.83,1.78)" fill="none" stroke="#111" stroke-width="1.45" stroke-linecap="round" stroke-linejoin="round"><path vector-effect="non-scaling-stroke" transform="translate(0,0)" d="M0.2,6.2 A2.6,2.7 0 1 1 5.4,6.2 A2.6,2.7 0 1 1 0.2,6.2 Z M4.9,0.2 L0.7,10.4"/><path vector-effect="non-scaling-stroke" transform="translate(7.05,0)" d="M0,2.5 L2.3,0 L1.3,10"/><path vector-effect="non-scaling-stroke" transform="translate(10.8,0)" d="M0.3,2.4 A2.35,2.4 0 0 1 5,2.4 C5,3.6 4.5,4.3 3.8,5.1 L0,10 L4.2,10"/><path vector-effect="non-scaling-stroke" transform="translate(17.25,0)" d="M5,0 L0.5,0 L0.5,4.1 C1.2,3.7 1.9,3.6 2.6,3.6 A2.4,2.5 0 0 1 5,6.1 L5,7.5 A2.5,2.5 0 0 1 0,7.5"/></g>
<line x1="1061.5" y1="640" x2="1061.5" y2="671" stroke="#383838" stroke-width="1" stroke-linecap="butt"/>
<path d="M1061.5,613.5 L1058.1,641.5 L1061.5,639.5 L1064.9,641.5 Z" fill="#000"/>
<path d="M1073.2,657 L1083.2,622.3 L1093.2,657 M1076.8,645.5 L1089.6,645.5" stroke="#111" stroke-width="2.2" fill="none" stroke-linejoin="round" stroke-linecap="round"/>
<line x1="927.3" y1="130.5" x2="1195.8" y2="130.5" stroke="#000" stroke-width="2.86" stroke-linecap="butt"/>
<line x1="928.5" y1="130" x2="928.5" y2="564" stroke="#000" stroke-width="2.75" stroke-linecap="butt"/>
<line x1="1194.5" y1="130" x2="1194.5" y2="564" stroke="#000" stroke-width="2.75" stroke-linecap="butt"/>
<line x1="983" y1="130" x2="983" y2="501" stroke="#000" stroke-width="2.53" stroke-linecap="butt"/>
<line x1="1140" y1="130" x2="1140" y2="501" stroke="#000" stroke-width="2.53" stroke-linecap="butt"/>
<line x1="983" y1="132" x2="1140" y2="132" stroke="#000" stroke-width="4.84" stroke-linecap="butt"/>
<line x1="983" y1="133.8" x2="1140" y2="133.8" stroke="#666" stroke-width="1.2" stroke-linecap="butt"/>
<rect x="933.5" y="128.2" width="3" height="1.8" stroke="#000" stroke-width="0.1" fill="#000" rx="0"/>
<rect x="966.5" y="128.2" width="3" height="1.8" stroke="#000" stroke-width="0.1" fill="#000" rx="0"/>
<rect x="1060" y="128.2" width="3" height="1.8" stroke="#000" stroke-width="0.1" fill="#000" rx="0"/>
<rect x="1153.5" y="128.2" width="3" height="1.8" stroke="#000" stroke-width="0.1" fill="#000" rx="0"/>
<rect x="1186.5" y="128.2" width="3" height="1.8" stroke="#000" stroke-width="0.1" fill="#000" rx="0"/>
<line x1="928" y1="501.1" x2="984" y2="501.1" stroke="#000" stroke-width="2.42" stroke-linecap="butt"/>
<line x1="1195" y1="501.1" x2="1139" y2="501.1" stroke="#000" stroke-width="2.42" stroke-linecap="butt"/>
<line x1="927.3" y1="564" x2="1195.8" y2="564" stroke="#000" stroke-width="2.42" stroke-linecap="butt"/>
<line x1="949.2" y1="501" x2="949.2" y2="564" stroke="#000" stroke-width="1.98" stroke-linecap="butt"/>
<line x1="1173.8" y1="501" x2="1173.8" y2="564" stroke="#000" stroke-width="1.98" stroke-linecap="butt"/>
<circle cx="927.3" cy="298.5" r="1.3" fill="#000"/>
<path d="M923.4,310.5 L923.4,313 Q923.4,314.6 925,314.6 L928.3,314.6" stroke="#000" stroke-width="1.76" fill="none" stroke-linejoin="miter" stroke-linecap="butt"/>
<circle cx="1195.7" cy="298.5" r="1.3" fill="#000"/>
<path d="M1199.6,310.5 L1199.6,313 Q1199.6,314.6 1198,314.6 L1194.7,314.6" stroke="#000" stroke-width="1.76" fill="none" stroke-linejoin="miter" stroke-linecap="butt"/>
<line x1="983" y1="148" x2="1030" y2="148" stroke="#000" stroke-width="2.42" stroke-linecap="butt"/>
<line x1="1093" y1="148" x2="1140" y2="148" stroke="#000" stroke-width="2.42" stroke-linecap="butt"/>
<line x1="1015" y1="148" x2="1015" y2="162" stroke="#000" stroke-width="2.2" stroke-linecap="butt"/>
<line x1="1108" y1="148" x2="1108" y2="162" stroke="#000" stroke-width="2.2" stroke-linecap="butt"/>
<line x1="1011" y1="162.2" x2="1030" y2="162.2" stroke="#000" stroke-width="3.3" stroke-linecap="butt"/>
<line x1="1093" y1="162.2" x2="1112" y2="162.2" stroke="#000" stroke-width="3.3" stroke-linecap="butt"/>
<line x1="1012.2" y1="161.2" x2="983.3" y2="243.5" stroke="#000" stroke-width="3.08" stroke-linecap="butt"/>
<line x1="1110.8" y1="161.2" x2="1139.7" y2="243.5" stroke="#000" stroke-width="3.08" stroke-linecap="butt"/>
<line x1="983" y1="249.2" x2="1140" y2="249.2" stroke="#777" stroke-width="1.4" stroke-linecap="butt"/>
<path d="M1104.5,201 L1104.5,211.5 A43,32 0 0 1 1031,233.6 L1029,232.8 L1008.8,233.8" stroke="#000" stroke-width="2.09" fill="none" stroke-linejoin="miter" stroke-linecap="butt"/>
<ellipse cx="1061.5" cy="201" rx="43.1" ry="32.3" stroke="#000" stroke-width="2.2" fill="none"/>
<path d="M1035.3,229.6 Q1061.5,238.2 1087,229.6" stroke="#000" stroke-width="3.96" fill="none" stroke-linejoin="miter" stroke-linecap="butt"/>
<path d="M1030,177.5 Q1026.3,180 1026.3,186 L1026.3,202 A35.1,22.3 0 0 0 1096.5,202 L1096.5,186 Q1096.5,180 1092.9,177.5" stroke="#000" stroke-width="2.2" fill="none" stroke-linejoin="miter" stroke-linecap="butt"/>
<path d="M1030,179 L1030,142.7 L1092.9,142.7 L1092.9,179 L1092.9,202 A31.45,19.6 0 0 1 1030,202 Z" stroke="#000" stroke-width="2.42" fill="#fff" stroke-linejoin="miter" stroke-linecap="butt"/>
<line x1="1029" y1="142.7" x2="1094" y2="142.7" stroke="#000" stroke-width="2.86" stroke-linecap="butt"/>
<path d="M1030,179 A31.45,11 0 0 0 1092.9,179" stroke="#000" stroke-width="2.2" fill="none" stroke-linejoin="miter" stroke-linecap="butt"/>
<path d="M1030.6,203 A30.9,19.2 0 0 0 1092.3,203" stroke="#000" stroke-width="3.3" fill="none" stroke-linejoin="miter" stroke-linecap="butt"/>
<circle cx="1031.3" cy="221.5" r="3" fill="#000"/>
<circle cx="1035.5" cy="229.7" r="3" fill="#000"/>
<circle cx="1091.7" cy="221.5" r="3" fill="#000"/>
<circle cx="1087.3" cy="229.7" r="3" fill="#000"/>
<path d="M1029.5,217 L1037,231" stroke="#000" stroke-width="3.85" fill="none" stroke-linejoin="round" stroke-linecap="round"/>
<path d="M1093.5,217 L1086,231" stroke="#000" stroke-width="3.85" fill="none" stroke-linejoin="round" stroke-linecap="round"/>
<line x1="991.8" y1="194.5" x2="991.8" y2="222" stroke="#000" stroke-width="3.3" stroke-linecap="round"/>
<line x1="989.5" y1="204.3" x2="1006" y2="204.3" stroke="#000" stroke-width="4.4" stroke-linecap="round"/>
<line x1="1000.6" y1="196.5" x2="1000.6" y2="210" stroke="#000" stroke-width="3.3" stroke-linecap="round"/>
<circle cx="1000" cy="199.5" r="2.6" fill="#000"/>
<line x1="1002" y1="206.6" x2="1018" y2="206.6" stroke="#444" stroke-width="1.2" stroke-linecap="butt"/>
<line x1="1002" y1="209" x2="1018" y2="209" stroke="#444" stroke-width="1.2" stroke-linecap="butt"/>
<path d="M989.4,220.8 L1008.8,220.8 L1008.8,233.9 L989.4,233.9" stroke="#000" stroke-width="2.2" fill="none" stroke-linejoin="miter" stroke-linecap="butt"/>
<path d="M1008.8,220.8 L1010.8,217.6 L1019,211.6" stroke="#000" stroke-width="1.65" fill="none" stroke-linejoin="miter" stroke-linecap="butt"/>
<path d="M991.4,225.7 Q987.5,250 986,275 L972.3,521" stroke="#000" stroke-width="3.52" fill="none" stroke-linejoin="round" stroke-linecap="round"/>
<line x1="983" y1="318.2" x2="989.5" y2="318.2" stroke="#000" stroke-width="2.2" stroke-linecap="butt"/>
<rect x="988.6" y="221.5" width="5.6" height="11" stroke="#000" stroke-width="0.1" fill="#000" rx="2.5"/>
<path d="M965.2,521.3 Q971.5,518.3 977.8,521.3 Q978,527.8 971.5,532.3 Q965,527.8 965.2,521.3 Z" stroke="#000" stroke-width="2.53" fill="#fff" stroke-linejoin="miter" stroke-linecap="butt"/>
<path d="M968,523.3 Q968.5,527.8 971.5,528.8 Q974.5,527.8 975,523.3" stroke="#000" stroke-width="1.65" fill="none" stroke-linejoin="miter" stroke-linecap="butt"/>
<line x1="999.6" y1="251.2" x2="1018.6" y2="251.2" stroke="#000" stroke-width="2.86" stroke-linecap="butt"/>
<line x1="999.6" y1="251" x2="999.6" y2="564" stroke="#000" stroke-width="2.75" stroke-linecap="butt"/>
<line x1="1018.6" y1="251" x2="1018.6" y2="564" stroke="#000" stroke-width="2.75" stroke-linecap="butt"/>
<line x1="1104.4" y1="251.2" x2="1123.4" y2="251.2" stroke="#000" stroke-width="2.86" stroke-linecap="butt"/>
<line x1="1104.4" y1="251" x2="1104.4" y2="564" stroke="#000" stroke-width="2.75" stroke-linecap="butt"/>
<line x1="1123.4" y1="251" x2="1123.4" y2="564" stroke="#000" stroke-width="2.75" stroke-linecap="butt"/>
<line x1="1018.6" y1="385.4" x2="1104.4" y2="385.4" stroke="#000" stroke-width="2.2" stroke-linecap="butt"/>
<rect x="1033.8" y="291.3" width="20" height="27.9" stroke="#000" stroke-width="3.08" fill="none" rx="0"/>
<rect x="1069" y="291.3" width="20.2" height="27.9" stroke="#000" stroke-width="3.08" fill="none" rx="0"/>
<circle cx="1135.4" cy="317.6" r="1.3" fill="#000"/>
<rect x="953.4" y="475" width="5.2" height="21.6" stroke="#000" stroke-width="1.76" fill="none" rx="2.6"/>
<rect x="1164.4" y="475" width="5.2" height="21.6" stroke="#000" stroke-width="1.76" fill="none" rx="2.6"/>
<circle cx="934.7" cy="496.4" r="2.5" fill="#000"/>
<circle cx="976.4" cy="496.4" r="2.5" fill="#000"/>
<circle cx="1188.3" cy="496.4" r="2.5" fill="#000"/>
<circle cx="1146.6" cy="496.4" r="2.5" fill="#000"/>
<line x1="976.5" y1="514.6" x2="993" y2="514.6" stroke="#000" stroke-width="2.86" stroke-linecap="butt"/>
<line x1="1130.1" y1="514.6" x2="1150.8" y2="514.6" stroke="#000" stroke-width="2.86" stroke-linecap="butt"/>
<circle cx="1061.5" cy="531.4" r="22" stroke="#000" stroke-width="3.3" fill="#fff"/>
<circle cx="1061.5" cy="531.4" r="19.2" stroke="#000" stroke-width="1.2" fill="none"/>
<line x1="1049" y1="517" x2="1074" y2="517" stroke="#000" stroke-width="1.2" stroke-linecap="butt"/>
<line x1="1046.3" y1="520.8" x2="1076.7" y2="520.8" stroke="#000" stroke-width="1.2" stroke-linecap="butt"/>
<line x1="1046.5" y1="542.2" x2="1076.5" y2="542.2" stroke="#000" stroke-width="1.2" stroke-linecap="butt"/>
<line x1="1050" y1="546.4" x2="1073" y2="546.4" stroke="#000" stroke-width="1.2" stroke-linecap="butt"/>
<line x1="1047" y1="546.4" x2="1073" y2="546.4" stroke="#777" stroke-width="2.42" stroke-linecap="butt"/>
<line x1="1051" y1="517.3" x2="1068.7" y2="543.8" stroke="#000" stroke-width="3.3" stroke-linecap="butt"/>
<line x1="1061.5" y1="501" x2="1061.5" y2="572" stroke="#333" stroke-width="1" stroke-linecap="butt"/>
<line x1="1040" y1="531.5" x2="1092.7" y2="531.5" stroke="#333" stroke-width="1" stroke-linecap="butt"/>
<rect x="928.3" y="567.2" width="26.7" height="4" stroke="#000" stroke-width="0.1" fill="#000" rx="0.8"/>
<rect x="938.05" y="564" width="7.2" height="3.2" stroke="#000" stroke-width="1.2" fill="#fff" rx="0"/>
<line x1="941.65" y1="564" x2="941.65" y2="567.2" stroke="#000" stroke-width="1.2" stroke-linecap="butt"/>
<rect x="1168" y="567.2" width="26.7" height="4" stroke="#000" stroke-width="0.1" fill="#000" rx="0.8"/>
<rect x="1177.75" y="564" width="7.2" height="3.2" stroke="#000" stroke-width="1.2" fill="#fff" rx="0"/>
<line x1="1181.35" y1="564" x2="1181.35" y2="567.2" stroke="#000" stroke-width="1.2" stroke-linecap="butt"/>
</g>
<g id="top">
<line x1="131.5" y1="674" x2="131.5" y2="754" stroke="#383838" stroke-width="1" stroke-linecap="butt"/>
<line x1="269.5" y1="674" x2="269.5" y2="712" stroke="#383838" stroke-width="1" stroke-linecap="butt"/>
<line x1="131.4" y1="682.5" x2="269.4" y2="682.5" stroke="#383838" stroke-width="1" stroke-linecap="butt"/>
<path d="M131.4,682.5 L150.9,685.3 L148.9,682.5 L150.9,679.7 Z" fill="#000"/>
<path d="M269.4,682.5 L249.9,679.7 L251.9,682.5 L249.9,685.3 Z" fill="#000"/>
<g transform="translate(185.77,655.3) skewX(-15) scale(1.91,1.77)" fill="none" stroke="#111" stroke-width="1.45" stroke-linecap="round" stroke-linejoin="round"><path vector-effect="non-scaling-stroke" transform="translate(0,0)" d="M3.7,0 L0,6.9 L5,6.9 M3.9,4.4 L3.9,10"/><path vector-effect="non-scaling-stroke" transform="translate(6.45,0)" d="M0,2.3 A2.5,2.3 0 0 1 5,2.3 L5,2.6 A2.3,2.2 0 0 1 2.7,4.8 L2,4.8 M2.7,4.8 A2.4,2.5 0 0 1 5,7.3 L5,7.5 A2.5,2.5 0 0 1 0,7.5"/><path vector-effect="non-scaling-stroke" transform="translate(12.9,0)" d="M0.5,2.1 A2,2.1 0 0 1 4.5,2.1 L4.5,2.5 A2,2.1 0 0 1 0.5,2.5 Z M0,7 A2.5,2.4 0 0 1 5,7 L5,7.5 A2.5,2.5 0 0 1 0,7.5 Z"/></g>
<line x1="95.7" y1="718.5" x2="136.5" y2="718.5" stroke="#383838" stroke-width="1" stroke-linecap="butt"/>
<line x1="95.7" y1="743.5" x2="136.5" y2="743.5" stroke="#383838" stroke-width="1" stroke-linecap="butt"/>
<line x1="104.5" y1="655" x2="104.5" y2="771" stroke="#383838" stroke-width="1" stroke-linecap="butt"/>
<path d="M104.9,718.9 L107.7,699.9 L104.9,701.9 L102.1,699.9 Z" fill="#000"/>
<path d="M104.9,743.3 L102.1,762.3 L104.9,760.3 L107.7,762.3 Z" fill="#000"/>
<g transform="translate(93.6,686.5) rotate(-90)"><g transform="translate(1.58,-17.6) skewX(-15) scale(1.96,1.76)" fill="none" stroke="#111" stroke-width="1.45" stroke-linecap="round" stroke-linejoin="round"><path vector-effect="non-scaling-stroke" transform="translate(0,0)" d="M0,0 L5,0 L1.6,10"/><path vector-effect="non-scaling-stroke" transform="translate(6.45,0)" d="M5,3.7 A2.5,2.4 0 0 1 0,3.7 L0,2.5 A2.5,2.5 0 0 1 5,2.5 L5,3.6 C5,6.4 2.6,9.1 0.3,10"/></g></g>
<line x1="95.7" y1="854.5" x2="325" y2="854.5" stroke="#383838" stroke-width="1" stroke-linecap="butt"/>
<line x1="95.7" y1="919.5" x2="143" y2="919.5" stroke="#383838" stroke-width="1" stroke-linecap="butt"/>
<line x1="104.5" y1="854.4" x2="104.5" y2="919.8" stroke="#383838" stroke-width="1" stroke-linecap="butt"/>
<path d="M104.9,854.4 L102.1,873.9 L104.9,871.9 L107.7,873.9 Z" fill="#000"/>
<path d="M104.9,919.8 L107.7,900.3 L104.9,902.3 L102.1,900.3 Z" fill="#000"/>
<g transform="translate(94.1,907) rotate(-90)"><g transform="translate(4.68,-17.6) skewX(-15) scale(1.83,1.76)" fill="none" stroke="#111" stroke-width="1.45" stroke-linecap="round" stroke-linejoin="round"><path vector-effect="non-scaling-stroke" transform="translate(0,0)" d="M0.3,2.4 A2.35,2.4 0 0 1 5,2.4 C5,3.6 4.5,4.3 3.8,5.1 L0,10 L4.2,10"/><path vector-effect="non-scaling-stroke" transform="translate(6.45,0)" d="M0,2.5 A2.5,2.5 0 0 1 5,2.5 L5,7.5 A2.5,2.5 0 0 1 0,7.5 Z"/><path vector-effect="non-scaling-stroke" transform="translate(12.9,0)" d="M0.5,2.1 A2,2.1 0 0 1 4.5,2.1 L4.5,2.5 A2,2.1 0 0 1 0.5,2.5 Z M0,7 A2.5,2.4 0 0 1 5,7 L5,7.5 A2.5,2.5 0 0 1 0,7.5 Z"/></g></g>
<g transform="translate(327.25,663.1) skewX(-15) scale(1.83,1.77)" fill="none" stroke="#111" stroke-width="1.45" stroke-linecap="round" stroke-linejoin="round"><path vector-effect="non-scaling-stroke" transform="translate(0,0)" d="M0.2,6.2 A2.6,2.7 0 1 1 5.4,6.2 A2.6,2.7 0 1 1 0.2,6.2 Z M4.9,0.2 L0.7,10.4"/><path vector-effect="non-scaling-stroke" transform="translate(7.05,0)" d="M0.3,2.4 A2.35,2.4 0 0 1 5,2.4 C5,3.6 4.5,4.3 3.8,5.1 L0,10 L4.2,10"/><path vector-effect="non-scaling-stroke" transform="translate(13.5,0)" d="M0,2.5 A2.5,2.5 0 0 1 5,2.5 L5,7.5 A2.5,2.5 0 0 1 0,7.5 Z"/><path vector-effect="non-scaling-stroke" transform="translate(19.95,0)" d="M0,2.5 A2.5,2.5 0 0 1 5,2.5 L5,7.5 A2.5,2.5 0 0 1 0,7.5 Z"/><path vector-effect="non-scaling-stroke" transform="translate(26.4,0)" d="M3,0.4 L3,4 M1.4,1.3 L4.6,3.1 M4.6,1.3 L1.4,3.1"/></g>
<line x1="311.7" y1="691.5" x2="395.1" y2="691.5" stroke="#383838" stroke-width="1" stroke-linecap="butt"/>
<line x1="242.5" y1="823.7" x2="242.5" y2="969.3" stroke="#383838" stroke-width="1" stroke-linecap="butt"/>
<line x1="295.5" y1="823.7" x2="295.5" y2="969.3" stroke="#383838" stroke-width="1" stroke-linecap="butt"/>
<line x1="242.6" y1="961.5" x2="295.6" y2="961.5" stroke="#383838" stroke-width="1" stroke-linecap="butt"/>
<path d="M242.6,961.5 L259.6,964.3 L257.6,961.5 L259.6,958.7 Z" fill="#000"/>
<path d="M295.6,961.5 L278.6,958.7 L280.6,961.5 L278.6,964.3 Z" fill="#000"/>
<g transform="translate(256.59,934.1) skewX(-15) scale(2.02,1.72)" fill="none" stroke="#111" stroke-width="1.45" stroke-linecap="round" stroke-linejoin="round"><path vector-effect="non-scaling-stroke" transform="translate(0,0)" d="M0,2.5 L2.3,0 L1.3,10"/><path vector-effect="non-scaling-stroke" transform="translate(3.75,0)" d="M0,0 L5,0 L1.6,10"/><path vector-effect="non-scaling-stroke" transform="translate(10.2,0)" d="M0,2.5 A2.5,2.5 0 0 1 5,2.5 L5,7.5 A2.5,2.5 0 0 1 0,7.5 Z"/></g>
<g transform="translate(338.51,933.7) skewX(-15) scale(1.86,1.76)" fill="none" stroke="#111" stroke-width="1.45" stroke-linecap="round" stroke-linejoin="round"><path vector-effect="non-scaling-stroke" transform="translate(0,0)" d="M0.2,6.2 A2.6,2.7 0 1 1 5.4,6.2 A2.6,2.7 0 1 1 0.2,6.2 Z M4.9,0.2 L0.7,10.4"/><path vector-effect="non-scaling-stroke" transform="translate(7.05,0)" d="M0,2.5 L2.3,0 L1.3,10"/><path vector-effect="non-scaling-stroke" transform="translate(10.8,0)" d="M0.3,2.4 A2.35,2.4 0 0 1 5,2.4 C5,3.6 4.5,4.3 3.8,5.1 L0,10 L4.2,10"/><path vector-effect="non-scaling-stroke" transform="translate(17.25,0)" d="M5,0 L0.5,0 L0.5,4.1 C1.2,3.7 1.9,3.6 2.6,3.6 A2.4,2.5 0 0 1 5,6.1 L5,7.5 A2.5,2.5 0 0 1 0,7.5"/></g>
<line x1="323.6" y1="961.5" x2="389.3" y2="961.5" stroke="#383838" stroke-width="1" stroke-linecap="butt"/>
<line x1="323.6" y1="961.5" x2="294" y2="844" stroke="#383838" stroke-width="1" stroke-linecap="butt"/>
<line x1="131.2" y1="753.6" x2="131.2" y2="908.5" stroke="#000" stroke-width="1.76" stroke-linecap="butt"/>
<line x1="133.6" y1="753.6" x2="133.6" y2="908.5" stroke="#000" stroke-width="1.76" stroke-linecap="butt"/>
<line x1="404.6" y1="753.6" x2="404.6" y2="908.5" stroke="#000" stroke-width="1.76" stroke-linecap="butt"/>
<line x1="407.8" y1="753.6" x2="407.8" y2="908.5" stroke="#000" stroke-width="1.76" stroke-linecap="butt"/>
<line x1="131.2" y1="754" x2="136" y2="754" stroke="#111" stroke-width="1.3" stroke-linecap="butt"/>
<line x1="403" y1="754" x2="407.8" y2="754" stroke="#111" stroke-width="1.3" stroke-linecap="butt"/>
<line x1="131.2" y1="908.5" x2="133.6" y2="908.5" stroke="#111" stroke-width="1.3" stroke-linecap="butt"/>
<line x1="404.6" y1="908.5" x2="407.8" y2="908.5" stroke="#111" stroke-width="1.3" stroke-linecap="butt"/>
<circle cx="134.3" cy="748.5" r="1.3" fill="#000"/>
<circle cx="404.5" cy="748.5" r="1.3" fill="#000"/>
<rect x="136.2" y="719.5" width="55.1" height="24.7" stroke="#000" stroke-width="2.53" fill="none" rx="0"/>
<circle cx="155.1" cy="740.3" r="2.2" fill="#000"/>
<circle cx="184.6" cy="740.3" r="2.2" fill="#000"/>
<rect x="140.5" y="717.6" width="4" height="1.4" stroke="#000" stroke-width="0.1" fill="#000" rx="0"/>
<rect x="182.5" y="717.6" width="4" height="1.4" stroke="#000" stroke-width="0.1" fill="#000" rx="0"/>
<rect x="207" y="725.6" width="19.9" height="18.6" stroke="#000" stroke-width="2.53" fill="none" rx="0"/>
<line x1="226.9" y1="734.4" x2="239.5" y2="734.4" stroke="#000" stroke-width="2.53" stroke-linecap="butt"/>
<line x1="136.2" y1="744" x2="136.2" y2="911.5" stroke="#000" stroke-width="2.75" stroke-linecap="butt"/>
<line x1="152" y1="744" x2="152" y2="900" stroke="#000" stroke-width="2.53" stroke-linecap="butt"/>
<line x1="169.4" y1="744" x2="169.4" y2="878.5" stroke="#000" stroke-width="1.76" stroke-linecap="butt"/>
<line x1="171.8" y1="744" x2="171.8" y2="878.5" stroke="#000" stroke-width="2.86" stroke-linecap="butt"/>
<path d="M172,747.5 L177,747.5" stroke="#000" stroke-width="2.42" fill="none" stroke-linejoin="miter" stroke-linecap="butt"/>
<rect x="159.7" y="756.1" width="5.4" height="9.2" stroke="#000" stroke-width="2.42" fill="#1a1a1a" rx="2.7"/>
<rect x="159.7" y="807.1" width="5.4" height="9.2" stroke="#000" stroke-width="2.42" fill="#1a1a1a" rx="2.7"/>
<rect x="159.7" y="858" width="5.4" height="9.2" stroke="#000" stroke-width="2.42" fill="#1a1a1a" rx="2.7"/>
<circle cx="153" cy="775.7" r="2.6" fill="#000"/>
<circle cx="152.7" cy="860.5" r="2.6" fill="#000"/>
<circle cx="156.5" cy="832.7" r="2" fill="#000"/>
<circle cx="173.5" cy="781" r="1.6" fill="#000"/>
<circle cx="173.5" cy="817.5" r="1.6" fill="#000"/>
<rect x="171.2" y="836.7" width="5.2" height="15.7" stroke="#000" stroke-width="1.76" fill="#fff" rx="0"/>
<line x1="188.7" y1="744.2" x2="203.9" y2="786.5" stroke="#000" stroke-width="3.08" stroke-linecap="butt"/>
<line x1="213.6" y1="812" x2="221.2" y2="831" stroke="#000" stroke-width="3.08" stroke-linecap="butt"/>
<line x1="220.4" y1="831.5" x2="172" y2="877.8" stroke="#000" stroke-width="3.08" stroke-linecap="butt"/>
<line x1="222" y1="830.5" x2="222" y2="878" stroke="#000" stroke-width="2.53" stroke-linecap="butt"/>
<line x1="152" y1="900" x2="138.2" y2="913.8" stroke="#000" stroke-width="3.3" stroke-linecap="butt"/>
<circle cx="160.1" cy="903.4" r="2.3" fill="#000"/>
<rect x="347.5" y="719.5" width="55.1" height="24.7" stroke="#000" stroke-width="2.53" fill="none" rx="0"/>
<circle cx="383.7" cy="740.3" r="2.2" fill="#000"/>
<circle cx="354.2" cy="740.3" r="2.2" fill="#000"/>
<rect x="394.3" y="717.6" width="4" height="1.4" stroke="#000" stroke-width="0.1" fill="#000" rx="0"/>
<rect x="352.3" y="717.6" width="4" height="1.4" stroke="#000" stroke-width="0.1" fill="#000" rx="0"/>
<rect x="311.9" y="725.6" width="19.9" height="18.6" stroke="#000" stroke-width="2.53" fill="none" rx="0"/>
<line x1="311.9" y1="734.4" x2="299.3" y2="734.4" stroke="#000" stroke-width="2.53" stroke-linecap="butt"/>
<line x1="402.6" y1="744" x2="402.6" y2="911.5" stroke="#000" stroke-width="2.75" stroke-linecap="butt"/>
<line x1="386.8" y1="744" x2="386.8" y2="900" stroke="#000" stroke-width="2.53" stroke-linecap="butt"/>
<line x1="369.4" y1="744" x2="369.4" y2="878.5" stroke="#000" stroke-width="1.76" stroke-linecap="butt"/>
<line x1="367" y1="744" x2="367" y2="878.5" stroke="#000" stroke-width="2.86" stroke-linecap="butt"/>
<path d="M366.8,747.5 L361.8,747.5" stroke="#000" stroke-width="2.42" fill="none" stroke-linejoin="miter" stroke-linecap="butt"/>
<rect x="373.7" y="756.1" width="5.4" height="9.2" stroke="#000" stroke-width="2.42" fill="#1a1a1a" rx="2.7"/>
<rect x="373.7" y="807.1" width="5.4" height="9.2" stroke="#000" stroke-width="2.42" fill="#1a1a1a" rx="2.7"/>
<rect x="373.7" y="858" width="5.4" height="9.2" stroke="#000" stroke-width="2.42" fill="#1a1a1a" rx="2.7"/>
<circle cx="385.8" cy="775.7" r="2.6" fill="#000"/>
<circle cx="386.1" cy="860.5" r="2.6" fill="#000"/>
<circle cx="382.3" cy="832.7" r="2" fill="#000"/>
<circle cx="365.3" cy="781" r="1.6" fill="#000"/>
<circle cx="365.3" cy="817.5" r="1.6" fill="#000"/>
<rect x="362.4" y="836.7" width="5.2" height="15.7" stroke="#000" stroke-width="1.76" fill="#fff" rx="0"/>
<line x1="350.1" y1="744.2" x2="334.9" y2="786.5" stroke="#000" stroke-width="3.08" stroke-linecap="butt"/>
<line x1="325.2" y1="812" x2="317.6" y2="831" stroke="#000" stroke-width="3.08" stroke-linecap="butt"/>
<line x1="318.4" y1="831.5" x2="366.8" y2="877.8" stroke="#000" stroke-width="3.08" stroke-linecap="butt"/>
<line x1="316.8" y1="830.5" x2="316.8" y2="878" stroke="#000" stroke-width="2.53" stroke-linecap="butt"/>
<line x1="386.8" y1="900" x2="400.6" y2="913.8" stroke="#000" stroke-width="3.3" stroke-linecap="butt"/>
<circle cx="378.7" cy="903.4" r="2.3" fill="#000"/>
<line x1="136" y1="744.2" x2="403" y2="744.2" stroke="#000" stroke-width="2.86" stroke-linecap="butt"/>
<line x1="171" y1="786.9" x2="367.8" y2="786.9" stroke="#000" stroke-width="3.08" stroke-linecap="butt"/>
<line x1="171" y1="810.6" x2="367.8" y2="810.6" stroke="#000" stroke-width="2.86" stroke-linecap="butt"/>
<line x1="172" y1="808.5" x2="366.8" y2="808.5" stroke="#333" stroke-width="1.1" stroke-linecap="butt"/>
<line x1="151" y1="878.2" x2="387.8" y2="878.2" stroke="#000" stroke-width="3.3" stroke-linecap="butt"/>
<line x1="152" y1="900" x2="386.8" y2="900" stroke="#000" stroke-width="2.86" stroke-linecap="butt"/>
<line x1="138" y1="915.6" x2="400.8" y2="915.6" stroke="#000" stroke-width="2.86" stroke-linecap="butt"/>
<line x1="142.4" y1="919.8" x2="396.4" y2="919.8" stroke="#000" stroke-width="2.64" stroke-linecap="butt"/>
<line x1="237" y1="921.6" x2="302" y2="921.6" stroke="#000" stroke-width="2.42" stroke-linecap="butt"/>
<rect x="159.9" y="883.8" width="10" height="5.2" stroke="#000" stroke-width="2.2" fill="#666" rx="2.6"/>
<rect x="212.3" y="883.8" width="10" height="5.2" stroke="#000" stroke-width="2.2" fill="#666" rx="2.6"/>
<rect x="264.3" y="883.8" width="10" height="5.2" stroke="#000" stroke-width="2.2" fill="#666" rx="2.6"/>
<rect x="316.5" y="883.8" width="10" height="5.2" stroke="#000" stroke-width="2.2" fill="#666" rx="2.6"/>
<rect x="368.8" y="883.8" width="10" height="5.2" stroke="#000" stroke-width="2.2" fill="#666" rx="2.6"/>
<circle cx="269.3" cy="903.4" r="2.3" fill="#000"/>
<line x1="221" y1="831" x2="317.8" y2="831" stroke="#000" stroke-width="3.3" stroke-linecap="butt"/>
<rect x="249.2" y="709.2" width="40.6" height="34.8" stroke="#000" stroke-width="2.53" fill="none" rx="0"/>
<path d="M236,747 C229,752 226,760 226.2,769 C226.4,777 227,782 228.3,786.5" stroke="#000" stroke-width="2.53" fill="none" stroke-linejoin="miter" stroke-linecap="butt"/>
<path d="M302.8,747 C309.8,752 312.8,760 312.6,769 C312.4,777 311.8,782 310.5,786.5" stroke="#000" stroke-width="2.53" fill="none" stroke-linejoin="miter" stroke-linecap="butt"/>
<path d="M237.6,754 C235,759 233.8,764 234.3,769 C235,776 236.8,782 239.3,786.5" stroke="#000" stroke-width="2.42" fill="none" stroke-linejoin="miter" stroke-linecap="butt"/>
<path d="M301.2,754 C303.8,759 305,764 304.5,769 C303.8,776 302,782 299.5,786.5" stroke="#000" stroke-width="2.42" fill="none" stroke-linejoin="miter" stroke-linecap="butt"/>
<path d="M239,760 C236.6,764 235.8,768 236.3,771 C237.5,777 240,782.5 243,786.5" stroke="#000" stroke-width="1.98" fill="none" stroke-linejoin="miter" stroke-linecap="butt"/>
<path d="M299.8,760 C302.2,764 303,768 302.5,771 C301.3,777 298.8,782.5 295.8,786.5" stroke="#000" stroke-width="1.98" fill="none" stroke-linejoin="miter" stroke-linecap="butt"/>
<path d="M240.3,764.5 C241,772 244,780 248.8,786.5 C248.8,786.5 248.8,786.5 248.8,786.5" stroke="#000" stroke-width="1.4" fill="none" stroke-linejoin="miter" stroke-linecap="butt"/>
<path d="M298.5,764.5 C297.8,772 294.8,780 290,786.5 C290,786.5 290,786.5 290,786.5" stroke="#000" stroke-width="1.4" fill="none" stroke-linejoin="miter" stroke-linecap="butt"/>
<ellipse cx="269.4" cy="743.4" rx="30.6" ry="31" stroke="#000" stroke-width="3.52" fill="#fff"/>
<path d="M241.2,760 A28.4,13.2 0 0 1 297.8,760" stroke="#000" stroke-width="4.84" fill="none" stroke-linejoin="miter" stroke-linecap="butt"/>
<path d="M246,761.5 C252,757.5 258,756.2 262,756 L282,757 C287,758 291,760 293.5,762" stroke="#000" stroke-width="2.42" fill="none" stroke-linejoin="miter" stroke-linecap="butt"/>
<line x1="260.3" y1="754" x2="251" y2="765.3" stroke="#000" stroke-width="3.3" stroke-linecap="butt"/>
<circle cx="269.6" cy="771.8" r="2.2" fill="#000"/>
<line x1="311.7" y1="691" x2="261.5" y2="754.3" stroke="#383838" stroke-width="1" stroke-linecap="butt"/>
<path d="M288.6,720 L274.61,733.16 L278.04,733.33 L279,736.63 Z" fill="#000"/>
<path d="M261.2,754.7 L267.04,750.39 L264.3,750.78 L264.06,748.03 Z" fill="#000"/>
<line x1="238.5" y1="743.5" x2="300.3" y2="743.5" stroke="#333" stroke-width="1" stroke-linecap="butt"/>
<line x1="269.5" y1="712" x2="269.5" y2="774" stroke="#333" stroke-width="1" stroke-linecap="butt"/>
<line x1="269.6" y1="774.5" x2="269.6" y2="786.5" stroke="#000" stroke-width="2.64" stroke-linecap="butt"/>
<path d="M342.2,712.4 L359.6,714.6 L359.8,719.5" stroke="#000" stroke-width="3.52" fill="none" stroke-linejoin="round" stroke-linecap="round"/>
<path d="M342.2,712.4 L337.3,737 L338.3,758 L339.4,777" stroke="#000" stroke-width="3.74" fill="none" stroke-linejoin="round" stroke-linecap="round"/>
<path d="M346.5,719 L342.5,719 L340.8,727" stroke="#000" stroke-width="1.4" fill="none" stroke-linejoin="miter" stroke-linecap="butt"/>
<line x1="321.5" y1="744" x2="321.5" y2="765.5" stroke="#000" stroke-width="2.86" stroke-linecap="butt"/>
<line x1="321.5" y1="758" x2="338" y2="758" stroke="#555" stroke-width="1.76" stroke-linecap="butt"/>
<line x1="322" y1="746.5" x2="337" y2="746.5" stroke="#000" stroke-width="1.4" stroke-linecap="butt"/>
<path d="M324.5,771.5 L330.5,762 L336,764 L333,773 L329,777 L327,772 Z" stroke="#000" stroke-width="0.6" fill="#000" stroke-linejoin="round" stroke-linecap="butt"/>
<circle cx="337.6" cy="748.5" r="2.6" fill="#000"/>
<circle cx="339" cy="776" r="1.8" fill="#000"/>
<line x1="313" y1="771.5" x2="327" y2="771.5" stroke="#000" stroke-width="1.65" stroke-linecap="butt"/>
<path d="M311,786.5 Q312,776 318,774.5 L328,774.5" stroke="#000" stroke-width="1.76" fill="none" stroke-linejoin="miter" stroke-linecap="butt"/>
<circle cx="242.6" cy="854.4" r="21.4" stroke="#000" stroke-width="3.52" fill="#fff"/>
<circle cx="242.6" cy="854.4" r="18.3" stroke="#000" stroke-width="1.4" fill="none"/>
<circle cx="242.6" cy="854.4" r="16.6" stroke="#000" stroke-width="1.4" fill="none"/>
<circle cx="295.6" cy="854.4" r="21.4" stroke="#000" stroke-width="3.52" fill="#fff"/>
<circle cx="295.6" cy="854.4" r="18.3" stroke="#000" stroke-width="1.4" fill="none"/>
<circle cx="295.6" cy="854.4" r="16.6" stroke="#000" stroke-width="1.4" fill="none"/>
<line x1="222" y1="878" x2="222" y2="831" stroke="#000" stroke-width="2.53" stroke-linecap="butt"/>
<path d="M257.4,842.9 L241.8,842.9 L241.8,849.7 L257.4,849.7" stroke="#000" stroke-width="2.42" fill="none" stroke-linejoin="miter" stroke-linecap="butt"/>
<line x1="226.5" y1="861.9" x2="258" y2="861.9" stroke="#000" stroke-width="1.98" stroke-linecap="butt"/>
<line x1="283" y1="842.5" x2="297" y2="842.5" stroke="#000" stroke-width="1.98" stroke-linecap="butt"/>
<line x1="280.5" y1="849" x2="297" y2="849" stroke="#000" stroke-width="1.98" stroke-linecap="butt"/>
<line x1="280" y1="861.9" x2="311" y2="861.9" stroke="#000" stroke-width="1.98" stroke-linecap="butt"/>
<path d="M291.5,842 L297.5,842 L297.5,853 L294,853 Z" stroke="#000" stroke-width="0.5" fill="#000" stroke-linejoin="miter" stroke-linecap="butt"/>
<line x1="295.2" y1="853" x2="298" y2="866" stroke="#000" stroke-width="2.86" stroke-linecap="butt"/>
<line x1="242.5" y1="824.5" x2="242.5" y2="890" stroke="#333" stroke-width="1" stroke-linecap="butt"/>
<line x1="295.5" y1="824.5" x2="295.5" y2="890" stroke="#333" stroke-width="1" stroke-linecap="butt"/>
</g>
<g id="bottom">
<path d="M1051.8,742 L1061.8,705 L1071.8,742 M1055.3,729.8 L1068.3,729.8" stroke="#111" stroke-width="2.2" fill="none" stroke-linejoin="round" stroke-linecap="round"/>
<line x1="1061.8" y1="752.6" x2="1061.8" y2="960" stroke="#333" stroke-width="1" stroke-linecap="butt" stroke-dasharray="22 3 3 3"/>
<line x1="941.5" y1="935" x2="941.5" y2="1019.5" stroke="#383838" stroke-width="1" stroke-linecap="butt"/>
<line x1="1181.5" y1="901" x2="1181.5" y2="1020.3" stroke="#383838" stroke-width="1" stroke-linecap="butt"/>
<line x1="1199.5" y1="960" x2="1199.5" y2="1020.3" stroke="#383838" stroke-width="1" stroke-linecap="butt"/>
<line x1="941.8" y1="1012.5" x2="1181" y2="1012.5" stroke="#383838" stroke-width="1" stroke-linecap="butt"/>
<path d="M941.8,1012.3 L961.3,1015.1 L959.3,1012.3 L961.3,1009.5 Z" fill="#000"/>
<path d="M1181,1012.3 L1161.5,1009.5 L1163.5,1012.3 L1161.5,1015.1 Z" fill="#000"/>
<line x1="1163" y1="1012.5" x2="1277.5" y2="1012.5" stroke="#383838" stroke-width="1" stroke-linecap="butt"/>
<path d="M1181,1012.3 L1163,1009.5 L1165,1012.3 L1163,1015.1 Z" fill="#000"/>
<path d="M1199.3,1012.3 L1217.3,1015.1 L1215.3,1012.3 L1217.3,1009.5 Z" fill="#000"/>
<g transform="translate(1049.07,984.4) skewX(-15) scale(2.02,1.79)" fill="none" stroke="#111" stroke-width="1.45" stroke-linecap="round" stroke-linejoin="round"><path vector-effect="non-scaling-stroke" transform="translate(0,0)" d="M0,0 L5,0 L1.6,10"/><path vector-effect="non-scaling-stroke" transform="translate(6.45,0)" d="M4.7,0 C2.4,0.9 0,3.6 0,6.4 L0,7.5 A2.5,2.5 0 0 0 5,7.5 L5,6.3 A2.5,2.4 0 0 0 0,6.3"/><path vector-effect="non-scaling-stroke" transform="translate(12.9,0)" d="M0,2.5 L2.3,0 L1.3,10"/></g>
<g transform="translate(1231.27,984.5) skewX(-15) scale(1.71,1.75)" fill="none" stroke="#111" stroke-width="1.45" stroke-linecap="round" stroke-linejoin="round"><path vector-effect="non-scaling-stroke" transform="translate(0,0)" d="M5,0 L0.5,0 L0.5,4.1 C1.2,3.7 1.9,3.6 2.6,3.6 A2.4,2.5 0 0 1 5,6.1 L5,7.5 A2.5,2.5 0 0 1 0,7.5"/><path vector-effect="non-scaling-stroke" transform="translate(6.45,0)" d="M0,0 L5,0 L1.6,10"/><path vector-effect="non-scaling-stroke" transform="translate(12.9,0)" d="M1.3,8.9 L1.3,10 L0.2,12"/><path vector-effect="non-scaling-stroke" transform="translate(15.95,0)" d="M5,0 L0.5,0 L0.5,4.1 C1.2,3.7 1.9,3.6 2.6,3.6 A2.4,2.5 0 0 1 5,6.1 L5,7.5 A2.5,2.5 0 0 1 0,7.5"/></g>
<line x1="1195" y1="771.5" x2="1245.8" y2="771.5" stroke="#383838" stroke-width="1" stroke-linecap="butt"/>
<line x1="1160" y1="810.5" x2="1245.8" y2="810.5" stroke="#555" stroke-width="1" stroke-linecap="butt"/>
<line x1="1161" y1="921.5" x2="1245.8" y2="921.5" stroke="#555" stroke-width="1" stroke-linecap="butt"/>
<line x1="1237.5" y1="771.7" x2="1237.5" y2="921.8" stroke="#383838" stroke-width="1" stroke-linecap="butt"/>
<path d="M1237.6,771.7 L1234.8,790.7 L1237.6,788.7 L1240.4,790.7 Z" fill="#000"/>
<path d="M1237.6,810.7 L1240.4,791.7 L1237.6,793.7 L1234.8,791.7 Z" fill="#000"/>
<path d="M1237.6,810.7 L1234.8,829.7 L1237.6,827.7 L1240.4,829.7 Z" fill="#000"/>
<path d="M1237.6,921.8 L1240.4,902.8 L1237.6,904.8 L1234.8,902.8 Z" fill="#000"/>
<g transform="translate(1229.2,804) rotate(-90)"><g transform="translate(2.57,-17.7) skewX(-15) scale(1.67,1.77)" fill="none" stroke="#111" stroke-width="1.45" stroke-linecap="round" stroke-linejoin="round"><path vector-effect="non-scaling-stroke" transform="translate(0,0)" d="M0,2.5 L2.3,0 L1.3,10"/><path vector-effect="non-scaling-stroke" transform="translate(3.75,0)" d="M0.3,2.4 A2.35,2.4 0 0 1 5,2.4 C5,3.6 4.5,4.3 3.8,5.1 L0,10 L4.2,10"/><path vector-effect="non-scaling-stroke" transform="translate(10.2,0)" d="M5,0 L0.5,0 L0.5,4.1 C1.2,3.7 1.9,3.6 2.6,3.6 A2.4,2.5 0 0 1 5,6.1 L5,7.5 A2.5,2.5 0 0 1 0,7.5"/></g></g>
<g transform="translate(1229.2,883) rotate(-90)"><g transform="translate(3.72,-17.7) skewX(-15) scale(1.69,1.77)" fill="none" stroke="#111" stroke-width="1.45" stroke-linecap="round" stroke-linejoin="round"><path vector-effect="non-scaling-stroke" transform="translate(0,0)" d="M0,2.3 A2.5,2.3 0 0 1 5,2.3 L5,2.6 A2.3,2.2 0 0 1 2.7,4.8 L2,4.8 M2.7,4.8 A2.4,2.5 0 0 1 5,7.3 L5,7.5 A2.5,2.5 0 0 1 0,7.5"/><path vector-effect="non-scaling-stroke" transform="translate(6.45,0)" d="M5,0 L0.5,0 L0.5,4.1 C1.2,3.7 1.9,3.6 2.6,3.6 A2.4,2.5 0 0 1 5,6.1 L5,7.5 A2.5,2.5 0 0 1 0,7.5"/><path vector-effect="non-scaling-stroke" transform="translate(12.9,0)" d="M0,2.3 A2.5,2.3 0 0 1 5,2.3 L5,2.6 A2.3,2.2 0 0 1 2.7,4.8 L2,4.8 M2.7,4.8 A2.4,2.5 0 0 1 5,7.3 L5,7.5 A2.5,2.5 0 0 1 0,7.5"/></g></g>
<g transform="translate(1240.13,932) skewX(-15) scale(1.9,1.78)" fill="none" stroke="#111" stroke-width="1.45" stroke-linecap="round" stroke-linejoin="round"><path vector-effect="non-scaling-stroke" transform="translate(0,0)" d="M0.2,6.2 A2.6,2.7 0 1 1 5.4,6.2 A2.6,2.7 0 1 1 0.2,6.2 Z M4.9,0.2 L0.7,10.4"/><path vector-effect="non-scaling-stroke" transform="translate(7.05,0)" d="M0.5,2.1 A2,2.1 0 0 1 4.5,2.1 L4.5,2.5 A2,2.1 0 0 1 0.5,2.5 Z M0,7 A2.5,2.4 0 0 1 5,7 L5,7.5 A2.5,2.5 0 0 1 0,7.5 Z"/><path vector-effect="non-scaling-stroke" transform="translate(13.5,0)" d="M0,2.5 A2.5,2.5 0 0 1 5,2.5 L5,7.5 A2.5,2.5 0 0 1 0,7.5 Z"/><path vector-effect="non-scaling-stroke" transform="translate(19.95,0)" d="M3,0.4 L3,4 M1.4,1.3 L4.6,3.1 M4.6,1.3 L1.4,3.1"/></g>
<line x1="1225" y1="960.5" x2="1297.6" y2="960.5" stroke="#383838" stroke-width="1" stroke-linecap="butt"/>
<line x1="1225" y1="960.5" x2="1151.6" y2="896.2" stroke="#383838" stroke-width="1" stroke-linecap="butt"/>
<path d="M928.5,772 L928.5,951.5 Q928.5,963.1 941.6,963.1" stroke="#000" stroke-width="3.08" fill="none" stroke-linejoin="miter" stroke-linecap="butt"/>
<path d="M928.5,806.3 L923.2,806.3 L923.2,961 L934,968" stroke="#000" stroke-width="1.76" fill="none" stroke-linejoin="miter" stroke-linecap="butt"/>
<path d="M926.5,960 L935,966.5" stroke="#000" stroke-width="1.4" fill="none" stroke-linejoin="miter" stroke-linecap="butt"/>
<line x1="949.8" y1="822.5" x2="949.8" y2="943.7" stroke="#000" stroke-width="3.3" stroke-linecap="butt"/>
<circle cx="948.6" cy="852" r="1.3" fill="#000"/>
<circle cx="948.6" cy="880" r="1.3" fill="#000"/>
<line x1="927.3" y1="772.2" x2="984.5" y2="772.2" stroke="#000" stroke-width="3.74" stroke-linecap="butt"/>
<line x1="929.2" y1="772" x2="929.2" y2="797" stroke="#000" stroke-width="4.4" stroke-linecap="butt"/>
<line x1="982.2" y1="772" x2="982.2" y2="796" stroke="#000" stroke-width="3.74" stroke-linecap="butt"/>
<line x1="975" y1="783.8" x2="982.2" y2="783.8" stroke="#000" stroke-width="2.64" stroke-linecap="butt"/>
<line x1="976.3" y1="774" x2="976.3" y2="793" stroke="#000" stroke-width="1.98" stroke-linecap="butt"/>
<rect x="935.4" y="774.2" width="39.2" height="18.6" stroke="#000" stroke-width="0.1" fill="#000" rx="0"/>
<rect x="949.8" y="777.3" width="11" height="5.7" stroke="#fff" stroke-width="0.1" fill="#fff" rx="0"/>
<line x1="949.8" y1="782.4" x2="960.8" y2="782.4" stroke="#888" stroke-width="1.3" stroke-linecap="butt"/>
<line x1="939" y1="775" x2="947" y2="775" stroke="#999" stroke-width="1" stroke-linecap="butt"/>
<line x1="963" y1="775" x2="971" y2="775" stroke="#999" stroke-width="1" stroke-linecap="butt"/>
<line x1="933" y1="773" x2="933" y2="793" stroke="#000" stroke-width="1.76" stroke-linecap="butt"/>
<line x1="930" y1="794.5" x2="975" y2="794.5" stroke="#000" stroke-width="2.2" stroke-linecap="butt" stroke-dasharray="5 2"/>
<rect x="999.5" y="777.6" width="19.7" height="19.1" stroke="#000" stroke-width="2.64" fill="none" rx="0"/>
<line x1="1019.2" y1="787.1" x2="1041.6" y2="787.1" stroke="#000" stroke-width="2.64" stroke-linecap="butt"/>
<path d="M1031.6,787 Q1035,775.5 1041.6,772" stroke="#000" stroke-width="2.2" fill="none" stroke-linejoin="miter" stroke-linecap="butt"/>
<line x1="1040" y1="963" x2="1040" y2="970" stroke="#000" stroke-width="1.2" stroke-linecap="butt"/>
<line x1="1042.7" y1="963" x2="1042.7" y2="970" stroke="#000" stroke-width="1.2" stroke-linecap="butt"/>
<path d="M1194.5,772 L1194.5,951.5 Q1194.5,963.1 1181.4,963.1" stroke="#000" stroke-width="3.08" fill="none" stroke-linejoin="miter" stroke-linecap="butt"/>
<path d="M1194.5,806.3 L1199.8,806.3 L1199.8,961 L1189,968" stroke="#000" stroke-width="1.76" fill="none" stroke-linejoin="miter" stroke-linecap="butt"/>
<path d="M1196.5,960 L1188,966.5" stroke="#000" stroke-width="1.4" fill="none" stroke-linejoin="miter" stroke-linecap="butt"/>
<line x1="1173.2" y1="822.5" x2="1173.2" y2="943.7" stroke="#000" stroke-width="3.3" stroke-linecap="butt"/>
<circle cx="1174.4" cy="852" r="1.3" fill="#000"/>
<circle cx="1174.4" cy="880" r="1.3" fill="#000"/>
<line x1="1195.7" y1="772.2" x2="1138.5" y2="772.2" stroke="#000" stroke-width="3.74" stroke-linecap="butt"/>
<line x1="1193.8" y1="772" x2="1193.8" y2="797" stroke="#000" stroke-width="4.4" stroke-linecap="butt"/>
<line x1="1140.8" y1="772" x2="1140.8" y2="796" stroke="#000" stroke-width="3.74" stroke-linecap="butt"/>
<line x1="1148" y1="783.8" x2="1140.8" y2="783.8" stroke="#000" stroke-width="2.64" stroke-linecap="butt"/>
<line x1="1146.7" y1="774" x2="1146.7" y2="793" stroke="#000" stroke-width="1.98" stroke-linecap="butt"/>
<rect x="1148.4" y="774.2" width="39.2" height="18.6" stroke="#000" stroke-width="0.1" fill="#000" rx="0"/>
<rect x="1162.2" y="777.3" width="11" height="5.7" stroke="#fff" stroke-width="0.1" fill="#fff" rx="0"/>
<line x1="1173.2" y1="782.4" x2="1162.2" y2="782.4" stroke="#888" stroke-width="1.3" stroke-linecap="butt"/>
<line x1="1184" y1="775" x2="1176" y2="775" stroke="#999" stroke-width="1" stroke-linecap="butt"/>
<line x1="1160" y1="775" x2="1152" y2="775" stroke="#999" stroke-width="1" stroke-linecap="butt"/>
<line x1="1190" y1="773" x2="1190" y2="793" stroke="#000" stroke-width="1.76" stroke-linecap="butt"/>
<line x1="1193" y1="794.5" x2="1148" y2="794.5" stroke="#000" stroke-width="2.2" stroke-linecap="butt" stroke-dasharray="5 2"/>
<rect x="1103.8" y="777.6" width="19.7" height="19.1" stroke="#000" stroke-width="2.64" fill="none" rx="0"/>
<line x1="1103.8" y1="787.1" x2="1081.4" y2="787.1" stroke="#000" stroke-width="2.64" stroke-linecap="butt"/>
<path d="M1091.4,787 Q1088,775.5 1081.4,772" stroke="#000" stroke-width="2.2" fill="none" stroke-linejoin="miter" stroke-linecap="butt"/>
<line x1="1083" y1="963" x2="1083" y2="970" stroke="#000" stroke-width="1.2" stroke-linecap="butt"/>
<line x1="1080.3" y1="963" x2="1080.3" y2="970" stroke="#000" stroke-width="1.2" stroke-linecap="butt"/>
<rect x="1041.6" y="761.8" width="40.2" height="25.3" stroke="#000" stroke-width="2.64" fill="none" rx="0"/>
<line x1="927.3" y1="796.8" x2="1195.7" y2="796.8" stroke="#000" stroke-width="3.3" stroke-linecap="butt"/>
<line x1="948.3" y1="942.4" x2="1174.7" y2="942.4" stroke="#000" stroke-width="3.3" stroke-linecap="butt"/>
<line x1="941" y1="963.1" x2="1182" y2="963.1" stroke="#000" stroke-width="2.86" stroke-linecap="butt"/>
<line x1="933.5" y1="967.4" x2="1189.5" y2="967.4" stroke="#000" stroke-width="1.98" stroke-linecap="butt"/>
<line x1="934.5" y1="972.6" x2="1028.2" y2="972.6" stroke="#000" stroke-width="1.98" stroke-linecap="butt"/>
<line x1="1095.3" y1="972.6" x2="1188.5" y2="972.6" stroke="#000" stroke-width="1.98" stroke-linecap="butt"/>
<line x1="934.5" y1="967.4" x2="934.5" y2="972.6" stroke="#000" stroke-width="1.76" stroke-linecap="butt"/>
<line x1="1188.5" y1="967.4" x2="1188.5" y2="972.6" stroke="#000" stroke-width="1.76" stroke-linecap="butt"/>
<line x1="1028.2" y1="973.4" x2="1095.3" y2="973.4" stroke="#000" stroke-width="3.3" stroke-linecap="butt"/>
<path d="M965.6,942.4 L965.6,957.6 L991.1,957.6 L991.1,942.4" stroke="#000" stroke-width="2.64" fill="none" stroke-linejoin="miter" stroke-linecap="butt"/>
<path d="M1009.6,942.4 L1009.6,956.3 L1114.2,956.3 L1114.2,942.4" stroke="#000" stroke-width="2.64" fill="none" stroke-linejoin="miter" stroke-linecap="butt"/>
<path d="M995,944.5 L1000,944.5 M1003,944.5 L1006,944.5" stroke="#000" stroke-width="1.98" fill="none" stroke-linejoin="miter" stroke-linecap="butt"/>
<line x1="1118" y1="944.6" x2="1124" y2="944.6" stroke="#000" stroke-width="1.98" stroke-linecap="butt"/>
<path d="M971.3,768.2 L988.6,766 L993.2,796.5" stroke="#000" stroke-width="4.18" fill="none" stroke-linejoin="round" stroke-linecap="round"/>
<path d="M971.3,767 L988.6,765.2" stroke="#000" stroke-width="3.74" fill="none" stroke-linejoin="round" stroke-linecap="round"/>
<line x1="921.8" y1="810.5" x2="961.8" y2="810.5" stroke="#777" stroke-width="1" stroke-linecap="butt"/>
<line x1="941.5" y1="797.7" x2="941.5" y2="830.7" stroke="#777" stroke-width="1" stroke-linecap="butt"/>
<circle cx="941.8" cy="810.7" r="12.2" stroke="#000" stroke-width="2.64" fill="#fff"/>
<line x1="929.8" y1="810.5" x2="953.8" y2="810.5" stroke="#999" stroke-width="1" stroke-linecap="butt"/>
<line x1="941.5" y1="798.7" x2="941.5" y2="822.7" stroke="#999" stroke-width="1" stroke-linecap="butt"/>
<circle cx="941.8" cy="810.7" r="2.3" stroke="#000" stroke-width="1.98" fill="#444"/>
<circle cx="949.36" cy="809.91" r="1.7" fill="#000"/>
<circle cx="942.59" cy="818.26" r="1.7" fill="#000"/>
<circle cx="934.24" cy="811.49" r="1.7" fill="#000"/>
<circle cx="941.01" cy="803.14" r="1.7" fill="#000"/>
<line x1="921.8" y1="922.5" x2="961.8" y2="922.5" stroke="#777" stroke-width="1" stroke-linecap="butt"/>
<line x1="941.5" y1="902" x2="941.5" y2="942" stroke="#777" stroke-width="1" stroke-linecap="butt"/>
<circle cx="941.8" cy="922" r="12.2" stroke="#000" stroke-width="2.64" fill="#fff"/>
<line x1="929.8" y1="922.5" x2="953.8" y2="922.5" stroke="#999" stroke-width="1" stroke-linecap="butt"/>
<line x1="941.5" y1="910" x2="941.5" y2="934" stroke="#999" stroke-width="1" stroke-linecap="butt"/>
<circle cx="941.8" cy="922" r="2.3" stroke="#000" stroke-width="1.98" fill="#444"/>
<circle cx="949.14" cy="920.03" r="1.7" fill="#000"/>
<circle cx="943.77" cy="929.34" r="1.7" fill="#000"/>
<circle cx="934.46" cy="923.97" r="1.7" fill="#000"/>
<circle cx="939.83" cy="914.66" r="1.7" fill="#000"/>
<line x1="1161" y1="810.5" x2="1201" y2="810.5" stroke="#777" stroke-width="1" stroke-linecap="butt"/>
<line x1="1181.5" y1="797.7" x2="1181.5" y2="830.7" stroke="#777" stroke-width="1" stroke-linecap="butt"/>
<circle cx="1181" cy="810.7" r="12.2" stroke="#000" stroke-width="2.64" fill="#fff"/>
<line x1="1169" y1="810.5" x2="1193" y2="810.5" stroke="#999" stroke-width="1" stroke-linecap="butt"/>
<line x1="1181.5" y1="798.7" x2="1181.5" y2="822.7" stroke="#999" stroke-width="1" stroke-linecap="butt"/>
<circle cx="1181" cy="810.7" r="2.3" stroke="#000" stroke-width="1.98" fill="#444"/>
<circle cx="1188.56" cy="809.91" r="1.7" fill="#000"/>
<circle cx="1181.79" cy="818.26" r="1.7" fill="#000"/>
<circle cx="1173.44" cy="811.49" r="1.7" fill="#000"/>
<circle cx="1180.21" cy="803.14" r="1.7" fill="#000"/>
<line x1="1161" y1="922.5" x2="1201" y2="922.5" stroke="#777" stroke-width="1" stroke-linecap="butt"/>
<line x1="1181.5" y1="902" x2="1181.5" y2="942" stroke="#777" stroke-width="1" stroke-linecap="butt"/>
<circle cx="1181" cy="922" r="12.2" stroke="#000" stroke-width="2.64" fill="#fff"/>
<line x1="1169" y1="922.5" x2="1193" y2="922.5" stroke="#999" stroke-width="1" stroke-linecap="butt"/>
<line x1="1181.5" y1="910" x2="1181.5" y2="934" stroke="#999" stroke-width="1" stroke-linecap="butt"/>
<circle cx="1181" cy="922" r="2.3" stroke="#000" stroke-width="1.98" fill="#444"/>
<circle cx="1188.54" cy="921.07" r="1.7" fill="#000"/>
<circle cx="1181.93" cy="929.54" r="1.7" fill="#000"/>
<circle cx="1173.46" cy="922.93" r="1.7" fill="#000"/>
<circle cx="1180.07" cy="914.46" r="1.7" fill="#000"/>
<line x1="1225" y1="960.5" x2="1151.6" y2="896.2" stroke="#383838" stroke-width="1" stroke-linecap="butt"/>
<path d="M1171.9,913.9 L1160.63,900.97 L1160.62,904.01 L1157.6,904.43 Z" fill="#000"/>
<path d="M1190.6,930.3 L1201.87,943.23 L1201.88,940.19 L1204.9,939.77 Z" fill="#000"/>
</g>
</svg>
</body></html>
